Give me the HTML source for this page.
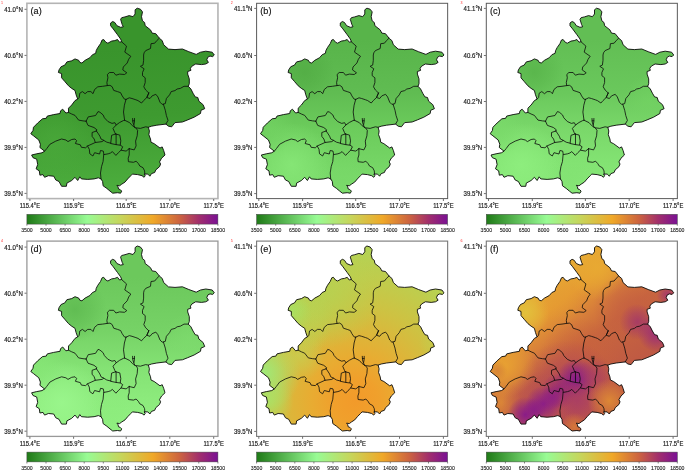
<!DOCTYPE html>
<html><head><meta charset="utf-8"><title>Figure</title>
<style>
html,body{margin:0;padding:0;background:#fff;}
svg{display:block;}
text{font-family:"Liberation Sans",Arial,sans-serif;fill:#1a1a1a;}
.t{font-size:7.1px;stroke:#1a1a1a;stroke-width:0.18px;}
.c{font-size:5.15px;stroke:#1a1a1a;stroke-width:0.1px;}
.pl{font-size:9.1px;fill:#111;stroke:#111;stroke-width:0.15px;}
.r{font-size:3.6px;fill:#ff2a2a;}
</style></head><body>
<svg width="685" height="471" viewBox="0 0 685 471">
<rect width="685" height="471" fill="#fff"/>
<defs>
<linearGradient id="cb" x1="0" x2="1" y1="0" y2="0">
<stop offset="0" stop-color="#1f7a17"/><stop offset="0.315" stop-color="#98fb94"/><stop offset="0.49" stop-color="#c6d65c"/><stop offset="0.66" stop-color="#f0a828"/><stop offset="0.80" stop-color="#cc6340"/><stop offset="0.90" stop-color="#a22f6c"/><stop offset="1" stop-color="#7a1094"/></linearGradient>
<clipPath id="mapclip"><path d="M125.0 16.9 L129.2 15.6 L133.0 16.7 L135.1 14.0 L135.1 9.8 L137.2 8.2 L140.4 9.2 L142.5 11.9 L141.5 16.7 L142.5 20.9 L144.6 22.5 L145.2 25.7 L150.5 29.9 L152.1 33.1 L155.8 33.7 L159.5 38.4 L162.2 40.6 L163.7 44.8 L168.5 49.1 L175.0 49.6 L182.4 49.0 L188.8 51.7 L196.2 54.4 L200.5 52.2 L205.8 51.2 L212.2 52.2 L214.3 55.0 L212.7 56.6 L210.0 56.1 L207.9 57.1 L206.8 59.8 L208.4 62.4 L205.8 64.0 L201.5 64.6 L195.7 64.0 L192.0 66.1 L190.4 68.3 L190.9 70.4 L187.7 71.5 L187.7 74.1 L189.3 78.9 L189.3 83.7 L188.3 86.3 L190.9 89.0 L193.0 93.2 L195.2 96.9 L197.8 97.5 L198.9 101.2 L203.1 104.7 L204.7 108.7 L201.0 110.3 L200.5 113.5 L194.1 117.2 L187.7 119.9 L182.4 122.0 L175.0 122.6 L171.7 126.8 L168.5 126.2 L165.9 124.1 L156.8 125.2 L151.5 126.2 L148.4 127.3 L149.4 131.0 L148.9 134.7 L150.5 139.0 L151.0 142.2 L154.2 143.7 L160.0 148.0 L162.2 146.9 L163.7 150.6 L165.0 155.0 L161.6 158.2 L159.5 161.9 L160.6 164.0 L159.5 166.7 L155.8 169.9 L154.7 172.5 L151.5 173.6 L149.9 176.2 L147.8 174.1 L144.1 174.1 L145.2 175.7 L144.1 177.3 L142.0 175.7 L137.7 174.6 L132.4 174.1 L130.8 175.7 L127.7 178.9 L125.0 182.1 L121.7 184.2 L119.6 185.8 L116.9 185.3 L118.0 186.8 L118.5 189.0 L120.1 189.5 L121.7 191.1 L120.6 193.2 L117.5 192.7 L112.7 193.2 L110.0 191.1 L106.8 188.4 L103.1 185.8 L102.6 181.5 L101.0 178.9 L98.4 177.8 L94.1 178.9 L87.7 179.4 L81.4 178.9 L79.8 176.8 L77.7 180.5 L75.0 177.3 L71.7 180.5 L66.9 183.1 L66.4 186.3 L61.6 186.3 L59.0 181.5 L55.8 180.0 L53.7 176.2 L48.4 175.7 L44.6 177.3 L43.0 174.6 L39.9 175.2 L39.3 170.9 L36.1 168.8 L37.7 164.6 L36.7 159.2 L33.0 157.7 L31.6 155.0 L36.7 153.8 L42.0 152.8 L44.6 151.2 L39.9 147.5 L40.4 144.3 L38.8 140.0 L33.5 135.8 L30.8 133.7 L33.0 130.5 L33.5 127.3 L37.7 123.0 L42.5 118.8 L46.2 118.3 L47.3 116.1 L53.7 114.6 L60.0 113.5 L60.6 110.8 L62.7 109.2 L65.9 113.0 L68.5 112.4 L68.5 108.2 L71.7 105.0 L75.0 100.6 L77.7 99.1 L76.1 94.8 L75.0 90.5 L71.7 88.4 L68.5 85.8 L64.8 81.5 L61.6 77.8 L61.6 73.6 L58.4 72.5 L59.0 69.9 L61.1 66.7 L64.8 65.1 L66.9 61.9 L71.7 60.8 L75.0 58.9 L78.7 60.3 L79.8 62.4 L81.9 63.0 L85.1 60.3 L89.9 57.7 L92.5 54.7 L95.7 53.3 L96.2 50.6 L97.8 47.5 L100.5 43.7 L102.1 40.0 L103.7 39.5 L105.8 42.2 L107.9 43.2 L111.6 41.1 L114.8 40.6 L117.5 39.5 L119.6 42.2 L121.7 41.6 L120.6 39.0 L117.5 34.7 L113.2 28.9 L110.6 25.7 L110.6 23.0 L112.7 21.5 L114.8 22.5 L116.9 25.7 L120.6 27.3 L123.3 26.8 L122.2 24.6 L120.6 19.3 L121.7 17.7Z"/></clipPath>
<linearGradient id="ba" gradientUnits="userSpaceOnUse" x1="80.0" y1="50.0" x2="90.0" y2="190.0"><stop offset="0.00" stop-color="#39942c"/><stop offset="0.50" stop-color="#3e9a30"/><stop offset="1.00" stop-color="#4cad3d"/></linearGradient>
<radialGradient id="ga0" gradientUnits="userSpaceOnUse" cx="55.0" cy="140.0" r="40.0"><stop offset="0" stop-color="#4cab3c" stop-opacity="0.60"/><stop offset="0.5" stop-color="#4cab3c" stop-opacity="0.33"/><stop offset="1" stop-color="#4cab3c" stop-opacity="0"/></radialGradient>
<linearGradient id="bb" gradientUnits="userSpaceOnUse" x1="100.0" y1="40.0" x2="100.0" y2="190.0"><stop offset="0.00" stop-color="#58b44a"/><stop offset="0.35" stop-color="#60bc52"/><stop offset="0.60" stop-color="#6ccc5c"/><stop offset="0.80" stop-color="#74d464"/><stop offset="1.00" stop-color="#7cdc6c"/></linearGradient>
<radialGradient id="gb0" gradientUnits="userSpaceOnUse" cx="75.0" cy="72.0" r="30.0"><stop offset="0" stop-color="#50aa42" stop-opacity="0.70"/><stop offset="0.5" stop-color="#50aa42" stop-opacity="0.39"/><stop offset="1" stop-color="#50aa42" stop-opacity="0"/></radialGradient>
<radialGradient id="gb1" gradientUnits="userSpaceOnUse" cx="62.0" cy="165.0" r="42.0"><stop offset="0" stop-color="#86e676" stop-opacity="0.95"/><stop offset="0.5" stop-color="#86e676" stop-opacity="0.52"/><stop offset="1" stop-color="#86e676" stop-opacity="0"/></radialGradient>
<radialGradient id="gb2" gradientUnits="userSpaceOnUse" cx="40.0" cy="130.0" r="25.0"><stop offset="0" stop-color="#72d262" stop-opacity="0.80"/><stop offset="0.5" stop-color="#72d262" stop-opacity="0.44"/><stop offset="1" stop-color="#72d262" stop-opacity="0"/></radialGradient>
<radialGradient id="gb3" gradientUnits="userSpaceOnUse" cx="112.0" cy="178.0" r="25.0"><stop offset="0" stop-color="#78d868" stop-opacity="0.70"/><stop offset="0.5" stop-color="#78d868" stop-opacity="0.39"/><stop offset="1" stop-color="#78d868" stop-opacity="0"/></radialGradient>
<linearGradient id="bc" gradientUnits="userSpaceOnUse" x1="100.0" y1="40.0" x2="100.0" y2="190.0"><stop offset="0.00" stop-color="#62be54"/><stop offset="0.35" stop-color="#6ac85c"/><stop offset="0.60" stop-color="#7ad86a"/><stop offset="0.80" stop-color="#82e272"/><stop offset="1.00" stop-color="#88e878"/></linearGradient>
<radialGradient id="gc0" gradientUnits="userSpaceOnUse" cx="75.0" cy="72.0" r="30.0"><stop offset="0" stop-color="#56b248" stop-opacity="0.75"/><stop offset="0.5" stop-color="#56b248" stop-opacity="0.41"/><stop offset="1" stop-color="#56b248" stop-opacity="0"/></radialGradient>
<radialGradient id="gc1" gradientUnits="userSpaceOnUse" cx="62.0" cy="165.0" r="42.0"><stop offset="0" stop-color="#8eee7e" stop-opacity="0.95"/><stop offset="0.5" stop-color="#8eee7e" stop-opacity="0.52"/><stop offset="1" stop-color="#8eee7e" stop-opacity="0"/></radialGradient>
<radialGradient id="gc2" gradientUnits="userSpaceOnUse" cx="40.0" cy="130.0" r="25.0"><stop offset="0" stop-color="#7ada6a" stop-opacity="0.80"/><stop offset="0.5" stop-color="#7ada6a" stop-opacity="0.44"/><stop offset="1" stop-color="#7ada6a" stop-opacity="0"/></radialGradient>
<radialGradient id="gc3" gradientUnits="userSpaceOnUse" cx="112.0" cy="178.0" r="25.0"><stop offset="0" stop-color="#82e272" stop-opacity="0.70"/><stop offset="0.5" stop-color="#82e272" stop-opacity="0.39"/><stop offset="1" stop-color="#82e272" stop-opacity="0"/></radialGradient>
<radialGradient id="gc4" gradientUnits="userSpaceOnUse" cx="190.0" cy="100.0" r="25.0"><stop offset="0" stop-color="#74d464" stop-opacity="0.60"/><stop offset="0.5" stop-color="#74d464" stop-opacity="0.33"/><stop offset="1" stop-color="#74d464" stop-opacity="0"/></radialGradient>
<linearGradient id="bd" gradientUnits="userSpaceOnUse" x1="100.0" y1="40.0" x2="100.0" y2="190.0"><stop offset="0.00" stop-color="#6cc85c"/><stop offset="0.35" stop-color="#76d266"/><stop offset="0.60" stop-color="#84e274"/><stop offset="0.80" stop-color="#8cea7c"/><stop offset="1.00" stop-color="#92f082"/></linearGradient>
<radialGradient id="gd0" gradientUnits="userSpaceOnUse" cx="75.0" cy="72.0" r="32.0"><stop offset="0" stop-color="#5eba50" stop-opacity="0.85"/><stop offset="0.5" stop-color="#5eba50" stop-opacity="0.47"/><stop offset="1" stop-color="#5eba50" stop-opacity="0"/></radialGradient>
<radialGradient id="gd1" gradientUnits="userSpaceOnUse" cx="62.0" cy="165.0" r="42.0"><stop offset="0" stop-color="#9af68c" stop-opacity="0.95"/><stop offset="0.5" stop-color="#9af68c" stop-opacity="0.52"/><stop offset="1" stop-color="#9af68c" stop-opacity="0"/></radialGradient>
<radialGradient id="gd2" gradientUnits="userSpaceOnUse" cx="40.0" cy="130.0" r="25.0"><stop offset="0" stop-color="#86e676" stop-opacity="0.80"/><stop offset="0.5" stop-color="#86e676" stop-opacity="0.44"/><stop offset="1" stop-color="#86e676" stop-opacity="0"/></radialGradient>
<radialGradient id="gd3" gradientUnits="userSpaceOnUse" cx="112.0" cy="178.0" r="25.0"><stop offset="0" stop-color="#8cec7c" stop-opacity="0.70"/><stop offset="0.5" stop-color="#8cec7c" stop-opacity="0.39"/><stop offset="1" stop-color="#8cec7c" stop-opacity="0"/></radialGradient>
<radialGradient id="gd4" gradientUnits="userSpaceOnUse" cx="190.0" cy="100.0" r="25.0"><stop offset="0" stop-color="#7edc6e" stop-opacity="0.60"/><stop offset="0.5" stop-color="#7edc6e" stop-opacity="0.33"/><stop offset="1" stop-color="#7edc6e" stop-opacity="0"/></radialGradient>
<radialGradient id="be" gradientUnits="userSpaceOnUse" cx="126.0" cy="163.0" r="150.0"><stop offset="0.00" stop-color="#f29a2a"/><stop offset="0.15" stop-color="#f0a02c"/><stop offset="0.30" stop-color="#e8ac32"/><stop offset="0.45" stop-color="#dcb63a"/><stop offset="0.62" stop-color="#cec242"/><stop offset="0.82" stop-color="#c0cc4c"/><stop offset="1.00" stop-color="#b4d254"/></radialGradient>
<radialGradient id="ge0" gradientUnits="userSpaceOnUse" cx="95.0" cy="55.0" r="55.0"><stop offset="0" stop-color="#b6d252" stop-opacity="0.85"/><stop offset="0.5" stop-color="#b6d252" stop-opacity="0.47"/><stop offset="1" stop-color="#b6d252" stop-opacity="0"/></radialGradient>
<radialGradient id="ge1" gradientUnits="userSpaceOnUse" cx="70.0" cy="80.0" r="35.0"><stop offset="0" stop-color="#b2d656" stop-opacity="0.70"/><stop offset="0.5" stop-color="#b2d656" stop-opacity="0.39"/><stop offset="1" stop-color="#b2d656" stop-opacity="0"/></radialGradient>
<radialGradient id="ge2" gradientUnits="userSpaceOnUse" cx="33.0" cy="136.0" r="38.0"><stop offset="0" stop-color="#9cec7c" stop-opacity="0.95"/><stop offset="0.5" stop-color="#9cec7c" stop-opacity="0.52"/><stop offset="1" stop-color="#9cec7c" stop-opacity="0"/></radialGradient>
<radialGradient id="ge3" gradientUnits="userSpaceOnUse" cx="60.0" cy="76.0" r="22.0"><stop offset="0" stop-color="#a6e264" stop-opacity="0.95"/><stop offset="0.5" stop-color="#a6e264" stop-opacity="0.52"/><stop offset="1" stop-color="#a6e264" stop-opacity="0"/></radialGradient>
<radialGradient id="ge4" gradientUnits="userSpaceOnUse" cx="38.0" cy="163.0" r="26.0"><stop offset="0" stop-color="#aae266" stop-opacity="0.90"/><stop offset="0.5" stop-color="#aae266" stop-opacity="0.50"/><stop offset="1" stop-color="#aae266" stop-opacity="0"/></radialGradient>
<radialGradient id="ge5" gradientUnits="userSpaceOnUse" cx="70.0" cy="118.0" r="25.0"><stop offset="0" stop-color="#c2d456" stop-opacity="0.60"/><stop offset="0.5" stop-color="#c2d456" stop-opacity="0.33"/><stop offset="1" stop-color="#c2d456" stop-opacity="0"/></radialGradient>
<radialGradient id="ge6" gradientUnits="userSpaceOnUse" cx="75.0" cy="95.0" r="25.0"><stop offset="0" stop-color="#c4cc4c" stop-opacity="0.50"/><stop offset="0.5" stop-color="#c4cc4c" stop-opacity="0.28"/><stop offset="1" stop-color="#c4cc4c" stop-opacity="0"/></radialGradient>
<radialGradient id="ge7" gradientUnits="userSpaceOnUse" cx="205.0" cy="105.0" r="16.0"><stop offset="0" stop-color="#c6ca4a" stop-opacity="0.80"/><stop offset="0.5" stop-color="#c6ca4a" stop-opacity="0.44"/><stop offset="1" stop-color="#c6ca4a" stop-opacity="0"/></radialGradient>
<radialGradient id="ge8" gradientUnits="userSpaceOnUse" cx="208.0" cy="55.0" r="14.0"><stop offset="0" stop-color="#b8d252" stop-opacity="0.70"/><stop offset="0.5" stop-color="#b8d252" stop-opacity="0.39"/><stop offset="1" stop-color="#b8d252" stop-opacity="0"/></radialGradient>
<linearGradient id="bf" gradientUnits="userSpaceOnUse" x1="70.0" y1="40.0" x2="175.0" y2="175.0"><stop offset="0.00" stop-color="#e6b236"/><stop offset="0.22" stop-color="#e69c32"/><stop offset="0.36" stop-color="#d8803a"/><stop offset="0.50" stop-color="#c8663e"/><stop offset="1.00" stop-color="#b85048"/></linearGradient>
<radialGradient id="gf0" gradientUnits="userSpaceOnUse" cx="66.0" cy="75.0" r="24.0"><stop offset="0" stop-color="#e2c23c" stop-opacity="0.95"/><stop offset="0.5" stop-color="#e2c23c" stop-opacity="0.52"/><stop offset="1" stop-color="#e2c23c" stop-opacity="0"/></radialGradient>
<radialGradient id="gf1" gradientUnits="userSpaceOnUse" cx="45.0" cy="128.0" r="32.0"><stop offset="0" stop-color="#e8a232" stop-opacity="0.95"/><stop offset="0.5" stop-color="#e8a232" stop-opacity="0.52"/><stop offset="1" stop-color="#e8a232" stop-opacity="0"/></radialGradient>
<radialGradient id="gf2" gradientUnits="userSpaceOnUse" cx="42.0" cy="165.0" r="20.0"><stop offset="0" stop-color="#de8c36" stop-opacity="0.80"/><stop offset="0.5" stop-color="#de8c36" stop-opacity="0.44"/><stop offset="1" stop-color="#de8c36" stop-opacity="0"/></radialGradient>
<radialGradient id="gf3" gradientUnits="userSpaceOnUse" cx="138.0" cy="30.0" r="32.0"><stop offset="0" stop-color="#e8aa32" stop-opacity="0.90"/><stop offset="0.5" stop-color="#e8aa32" stop-opacity="0.50"/><stop offset="1" stop-color="#e8aa32" stop-opacity="0"/></radialGradient>
<radialGradient id="gf4" gradientUnits="userSpaceOnUse" cx="100.0" cy="60.0" r="25.0"><stop offset="0" stop-color="#e49a32" stop-opacity="0.50"/><stop offset="0.5" stop-color="#e49a32" stop-opacity="0.28"/><stop offset="1" stop-color="#e49a32" stop-opacity="0"/></radialGradient>
<radialGradient id="gf5" gradientUnits="userSpaceOnUse" cx="170.0" cy="70.0" r="36.0"><stop offset="0" stop-color="#c45e42" stop-opacity="0.70"/><stop offset="0.5" stop-color="#c45e42" stop-opacity="0.39"/><stop offset="1" stop-color="#c45e42" stop-opacity="0"/></radialGradient>
<radialGradient id="gf6" gradientUnits="userSpaceOnUse" cx="178.0" cy="84.0" r="18.0"><stop offset="0" stop-color="#a43868" stop-opacity="0.90"/><stop offset="0.5" stop-color="#a43868" stop-opacity="0.50"/><stop offset="1" stop-color="#a43868" stop-opacity="0"/></radialGradient>
<radialGradient id="gf7" gradientUnits="userSpaceOnUse" cx="208.0" cy="57.0" r="11.0"><stop offset="0" stop-color="#a03470" stop-opacity="0.85"/><stop offset="0.5" stop-color="#a03470" stop-opacity="0.47"/><stop offset="1" stop-color="#a03470" stop-opacity="0"/></radialGradient>
<radialGradient id="gf8" gradientUnits="userSpaceOnUse" cx="197.0" cy="95.0" r="19.0"><stop offset="0" stop-color="#982a7a" stop-opacity="0.95"/><stop offset="0.5" stop-color="#982a7a" stop-opacity="0.52"/><stop offset="1" stop-color="#982a7a" stop-opacity="0"/></radialGradient>
<radialGradient id="gf9" gradientUnits="userSpaceOnUse" cx="120.0" cy="120.0" r="40.0"><stop offset="0" stop-color="#c8603e" stop-opacity="0.60"/><stop offset="0.5" stop-color="#c8603e" stop-opacity="0.33"/><stop offset="1" stop-color="#c8603e" stop-opacity="0"/></radialGradient>
<radialGradient id="gf10" gradientUnits="userSpaceOnUse" cx="108.0" cy="152.0" r="50.0"><stop offset="0" stop-color="#ac4060" stop-opacity="0.80"/><stop offset="0.5" stop-color="#ac4060" stop-opacity="0.44"/><stop offset="1" stop-color="#ac4060" stop-opacity="0"/></radialGradient>
<radialGradient id="gf11" gradientUnits="userSpaceOnUse" cx="78.0" cy="170.0" r="36.0"><stop offset="0" stop-color="#b44c56" stop-opacity="0.85"/><stop offset="0.5" stop-color="#b44c56" stop-opacity="0.47"/><stop offset="1" stop-color="#b44c56" stop-opacity="0"/></radialGradient>
<radialGradient id="gf12" gradientUnits="userSpaceOnUse" cx="117.0" cy="141.0" r="20.0"><stop offset="0" stop-color="#861a8c" stop-opacity="1.00"/><stop offset="0.5" stop-color="#861a8c" stop-opacity="0.55"/><stop offset="1" stop-color="#861a8c" stop-opacity="0"/></radialGradient>
<radialGradient id="gf13" gradientUnits="userSpaceOnUse" cx="100.0" cy="153.0" r="18.0"><stop offset="0" stop-color="#942678" stop-opacity="0.95"/><stop offset="0.5" stop-color="#942678" stop-opacity="0.52"/><stop offset="1" stop-color="#942678" stop-opacity="0"/></radialGradient>
<radialGradient id="gf14" gradientUnits="userSpaceOnUse" cx="84.0" cy="166.0" r="18.0"><stop offset="0" stop-color="#8c1e86" stop-opacity="1.00"/><stop offset="0.5" stop-color="#8c1e86" stop-opacity="0.55"/><stop offset="1" stop-color="#8c1e86" stop-opacity="0"/></radialGradient>
<radialGradient id="gf15" gradientUnits="userSpaceOnUse" cx="66.0" cy="177.0" r="18.0"><stop offset="0" stop-color="#8a1c88" stop-opacity="1.00"/><stop offset="0.5" stop-color="#8a1c88" stop-opacity="0.55"/><stop offset="1" stop-color="#8a1c88" stop-opacity="0"/></radialGradient>
<radialGradient id="gf16" gradientUnits="userSpaceOnUse" cx="75.0" cy="172.0" r="12.0"><stop offset="0" stop-color="#8a1c88" stop-opacity="0.80"/><stop offset="0.5" stop-color="#8a1c88" stop-opacity="0.44"/><stop offset="1" stop-color="#8a1c88" stop-opacity="0"/></radialGradient>
<radialGradient id="gf17" gradientUnits="userSpaceOnUse" cx="93.0" cy="160.0" r="12.0"><stop offset="0" stop-color="#8e2084" stop-opacity="0.80"/><stop offset="0.5" stop-color="#8e2084" stop-opacity="0.44"/><stop offset="1" stop-color="#8e2084" stop-opacity="0"/></radialGradient>
<radialGradient id="gf18" gradientUnits="userSpaceOnUse" cx="118.0" cy="162.0" r="20.0"><stop offset="0" stop-color="#a83c66" stop-opacity="0.80"/><stop offset="0.5" stop-color="#a83c66" stop-opacity="0.44"/><stop offset="1" stop-color="#a83c66" stop-opacity="0"/></radialGradient>
<radialGradient id="gf19" gradientUnits="userSpaceOnUse" cx="135.0" cy="138.0" r="18.0"><stop offset="0" stop-color="#a83c66" stop-opacity="0.70"/><stop offset="0.5" stop-color="#a83c66" stop-opacity="0.39"/><stop offset="1" stop-color="#a83c66" stop-opacity="0"/></radialGradient>
<radialGradient id="gf20" gradientUnits="userSpaceOnUse" cx="115.0" cy="189.0" r="14.0"><stop offset="0" stop-color="#d67838" stop-opacity="0.95"/><stop offset="0.5" stop-color="#d67838" stop-opacity="0.52"/><stop offset="1" stop-color="#d67838" stop-opacity="0"/></radialGradient>
<radialGradient id="gf21" gradientUnits="userSpaceOnUse" cx="150.0" cy="163.0" r="22.0"><stop offset="0" stop-color="#de8a34" stop-opacity="0.95"/><stop offset="0.5" stop-color="#de8a34" stop-opacity="0.52"/><stop offset="1" stop-color="#de8a34" stop-opacity="0"/></radialGradient>
<radialGradient id="gf22" gradientUnits="userSpaceOnUse" cx="38.0" cy="133.0" r="10.0"><stop offset="0" stop-color="#d07838" stop-opacity="0.60"/><stop offset="0.5" stop-color="#d07838" stop-opacity="0.33"/><stop offset="1" stop-color="#d07838" stop-opacity="0"/></radialGradient>
</defs>
<g transform="translate(0.0 0.0)">
<g clip-path="url(#mapclip)"><rect x="25" y="5" width="195" height="192" fill="url(#ba)"/>
<rect x="25" y="5" width="195" height="192" fill="url(#ga0)"/>
</g>
<path d="M121.6 41.8 L126.5 46.1 L124.8 52.1 L130.8 56.3 L128.7 59.2 L127.2 63.0 L123.3 67.0 L122.8 69.9 L126.8 72.8 L124.5 74.5 L119.6 74.1 L115.9 75.2 L113.7 72.5 L109.5 72.5 L107.4 74.5 L107.9 77.8 L106.9 82.6 L107.3 85.6 M77.7 99.1 L79.2 97.5 L79.8 93.2 L82.4 91.6 L85.1 93.7 L87.7 91.6 L90.9 91.6 L93.0 93.7 L94.6 89.5 L97.8 86.8 L102.6 86.3 L107.3 85.6 L110.0 85.3 L112.2 86.8 L113.7 90.4 L117.5 91.6 L120.6 92.7 L122.2 95.9 L124.4 99.1 L126.0 99.4 M126.0 99.4 L129.3 97.8 L132.0 98.5 L135.9 99.8 L138.0 100.6 L141.5 103.0 L143.6 100.6 L146.8 97.5 L148.8 93.0 M126.0 99.4 L124.4 105.2 L123.5 112.0 L124.6 120.2 M159.3 38.2 L156.8 40.6 L154.7 43.2 L151.0 43.7 L150.5 48.5 L145.7 50.6 L144.1 52.8 L143.6 55.0 L143.6 60.3 L143.0 65.1 L140.4 66.3 L144.1 68.8 L142.5 72.5 L142.5 75.7 L145.2 77.8 L145.2 82.6 L143.8 86.8 L145.7 90.0 L148.8 93.0 M148.8 93.0 L146.8 97.5 L150.0 98.5 L152.1 95.9 L155.8 94.3 L157.9 96.9 L160.0 102.2 L162.2 104.4 L165.3 103.6 L166.4 98.5 L169.6 94.8 L171.2 91.6 L175.0 90.6 L177.1 89.0 L180.3 88.4 L184.0 86.3 L188.3 86.3 M163.4 104.3 L165.3 110.3 L166.4 115.6 L168.0 120.4 L165.9 124.1 M68.5 112.4 L71.7 114.0 L75.0 115.4 L78.6 120.1 L83.0 120.9 L86.1 121.2 M86.1 121.2 L88.2 116.9 L95.6 115.5 L98.0 111.6 L99.9 112.2 L103.1 114.9 L104.4 117.8 L107.9 121.5 L112.0 123.4 L114.9 122.7 L116.2 125.0 L119.6 122.5 L123.3 120.6 L124.6 120.2 M124.6 120.2 L129.7 122.7 L132.4 125.7 L135.6 127.8 L140.4 128.4 L145.7 126.8 L148.4 127.3 M132.6 118.5 L132.8 122.0 L133.6 124.6 L134.8 127.6 M134.5 118.5 L134.4 122.0 L133.9 124.8 M132.8 120.8 L134.4 120.8 M135.8 127.9 L137.6 130.3 L137.2 135.8 L135.6 141.1 L136.1 145.9 L134.2 149.9 L129.2 148.7 M129.2 148.7 L129.2 155.0 L128.2 158.2 L128.4 161.7 L133.5 162.3 L136.1 161.2 L138.3 163.5 L139.9 166.1 L143.0 167.7 L144.6 170.9 L144.8 174.1 M129.2 148.7 L126.1 151.1 L121.0 150.2 L122.7 146.8 L120.4 145.2 M116.2 125.0 L113.0 128.4 L114.8 132.6 L115.6 134.0 M115.6 134.0 L119.8 135.1 L120.8 140.9 L120.2 145.2 L115.9 144.6 L110.7 143.5 L111.6 135.3 L115.6 134.0 M116.1 134.0 L116.1 144.6 M86.1 121.2 L88.0 125.4 L94.0 127.5 L96.9 129.8 L96.4 131.0 M96.4 131.0 L92.1 132.5 L92.1 136.4 L94.2 139.0 L95.3 142.5 L102.1 141.6 L103.8 140.4 L101.0 139.0 L99.9 136.2 L97.9 133.1 L96.4 131.0 M103.8 140.4 L106.8 142.2 L110.7 143.2 M44.6 151.2 L46.8 148.5 L49.9 144.3 L55.8 141.1 L61.6 139.0 L65.9 140.0 L68.0 141.6 L71.7 139.5 L75.0 139.0 L76.6 140.6 L75.4 143.5 L80.3 144.8 L81.4 147.3 L85.6 147.8 L87.5 146.0 L95.3 142.5 M87.5 146.0 L89.3 149.3 L89.8 153.8 L92.9 156.0 L94.6 152.7 L99.6 154.0 L100.5 150.5 L103.3 151.1 L103.9 154.6 L108.2 153.8 L110.5 153.0 L112.4 151.6 L115.9 155.4 L118.4 152.7 L121.0 150.2 M103.7 154.6 L103.1 161.4 L101.5 166.7 L100.5 173.0 L101.0 178.9" fill="none" stroke="#0a0a0a" stroke-width="0.8" stroke-linejoin="round" stroke-linecap="round"/>
<path d="M125.0 16.9 L129.2 15.6 L133.0 16.7 L135.1 14.0 L135.1 9.8 L137.2 8.2 L140.4 9.2 L142.5 11.9 L141.5 16.7 L142.5 20.9 L144.6 22.5 L145.2 25.7 L150.5 29.9 L152.1 33.1 L155.8 33.7 L159.5 38.4 L162.2 40.6 L163.7 44.8 L168.5 49.1 L175.0 49.6 L182.4 49.0 L188.8 51.7 L196.2 54.4 L200.5 52.2 L205.8 51.2 L212.2 52.2 L214.3 55.0 L212.7 56.6 L210.0 56.1 L207.9 57.1 L206.8 59.8 L208.4 62.4 L205.8 64.0 L201.5 64.6 L195.7 64.0 L192.0 66.1 L190.4 68.3 L190.9 70.4 L187.7 71.5 L187.7 74.1 L189.3 78.9 L189.3 83.7 L188.3 86.3 L190.9 89.0 L193.0 93.2 L195.2 96.9 L197.8 97.5 L198.9 101.2 L203.1 104.7 L204.7 108.7 L201.0 110.3 L200.5 113.5 L194.1 117.2 L187.7 119.9 L182.4 122.0 L175.0 122.6 L171.7 126.8 L168.5 126.2 L165.9 124.1 L156.8 125.2 L151.5 126.2 L148.4 127.3 L149.4 131.0 L148.9 134.7 L150.5 139.0 L151.0 142.2 L154.2 143.7 L160.0 148.0 L162.2 146.9 L163.7 150.6 L165.0 155.0 L161.6 158.2 L159.5 161.9 L160.6 164.0 L159.5 166.7 L155.8 169.9 L154.7 172.5 L151.5 173.6 L149.9 176.2 L147.8 174.1 L144.1 174.1 L145.2 175.7 L144.1 177.3 L142.0 175.7 L137.7 174.6 L132.4 174.1 L130.8 175.7 L127.7 178.9 L125.0 182.1 L121.7 184.2 L119.6 185.8 L116.9 185.3 L118.0 186.8 L118.5 189.0 L120.1 189.5 L121.7 191.1 L120.6 193.2 L117.5 192.7 L112.7 193.2 L110.0 191.1 L106.8 188.4 L103.1 185.8 L102.6 181.5 L101.0 178.9 L98.4 177.8 L94.1 178.9 L87.7 179.4 L81.4 178.9 L79.8 176.8 L77.7 180.5 L75.0 177.3 L71.7 180.5 L66.9 183.1 L66.4 186.3 L61.6 186.3 L59.0 181.5 L55.8 180.0 L53.7 176.2 L48.4 175.7 L44.6 177.3 L43.0 174.6 L39.9 175.2 L39.3 170.9 L36.1 168.8 L37.7 164.6 L36.7 159.2 L33.0 157.7 L31.6 155.0 L36.7 153.8 L42.0 152.8 L44.6 151.2 L39.9 147.5 L40.4 144.3 L38.8 140.0 L33.5 135.8 L30.8 133.7 L33.0 130.5 L33.5 127.3 L37.7 123.0 L42.5 118.8 L46.2 118.3 L47.3 116.1 L53.7 114.6 L60.0 113.5 L60.6 110.8 L62.7 109.2 L65.9 113.0 L68.5 112.4 L68.5 108.2 L71.7 105.0 L75.0 100.6 L77.7 99.1 L76.1 94.8 L75.0 90.5 L71.7 88.4 L68.5 85.8 L64.8 81.5 L61.6 77.8 L61.6 73.6 L58.4 72.5 L59.0 69.9 L61.1 66.7 L64.8 65.1 L66.9 61.9 L71.7 60.8 L75.0 58.9 L78.7 60.3 L79.8 62.4 L81.9 63.0 L85.1 60.3 L89.9 57.7 L92.5 54.7 L95.7 53.3 L96.2 50.6 L97.8 47.5 L100.5 43.7 L102.1 40.0 L103.7 39.5 L105.8 42.2 L107.9 43.2 L111.6 41.1 L114.8 40.6 L117.5 39.5 L119.6 42.2 L121.7 41.6 L120.6 39.0 L117.5 34.7 L113.2 28.9 L110.6 25.7 L110.6 23.0 L112.7 21.5 L114.8 22.5 L116.9 25.7 L120.6 27.3 L123.3 26.8 L122.2 24.6 L120.6 19.3 L121.7 17.7Z" fill="none" stroke="#0a0a0a" stroke-width="0.9" stroke-linejoin="round"/>
<rect x="26.90" y="3.30" width="191.05" height="195.30" fill="none" stroke="#b4b4b4" stroke-width="1.60"/>
<path d="M29.9 199.0 v2 M73.6 199.0 v2 M126.2 199.0 v2 M169.8 199.0 v2 M213.7 199.0 v2 M26.5 9.3 h-2 M26.5 55.4 h-2 M26.5 101.4 h-2 M26.5 147.4 h-2 M26.5 193.4 h-2" stroke="#333" stroke-width="0.7" fill="none"/>
<text class="t" x="22.8" y="11.8" text-anchor="end" textLength="18.6" lengthAdjust="spacingAndGlyphs">41.0°N</text>
<text class="t" x="22.8" y="57.9" text-anchor="end" textLength="18.6" lengthAdjust="spacingAndGlyphs">40.6°N</text>
<text class="t" x="22.8" y="103.9" text-anchor="end" textLength="18.6" lengthAdjust="spacingAndGlyphs">40.2°N</text>
<text class="t" x="22.8" y="149.9" text-anchor="end" textLength="18.6" lengthAdjust="spacingAndGlyphs">39.9°N</text>
<text class="t" x="22.8" y="195.9" text-anchor="end" textLength="18.6" lengthAdjust="spacingAndGlyphs">39.5°N</text>
<text class="t" x="29.9" y="208.1" text-anchor="middle" textLength="20.4" lengthAdjust="spacingAndGlyphs">115.4°E</text>
<text class="t" x="73.6" y="208.1" text-anchor="middle" textLength="20.4" lengthAdjust="spacingAndGlyphs">115.9°E</text>
<text class="t" x="126.2" y="208.1" text-anchor="middle" textLength="20.4" lengthAdjust="spacingAndGlyphs">116.5°E</text>
<text class="t" x="169.8" y="208.1" text-anchor="middle" textLength="20.4" lengthAdjust="spacingAndGlyphs">117.0°E</text>
<text class="t" x="213.7" y="208.1" text-anchor="middle" textLength="20.4" lengthAdjust="spacingAndGlyphs">117.5°E</text>
<text class="pl" x="30.6" y="14.2">(a)</text>
<rect x="26.9" y="214.3" width="191.0" height="9.8" fill="url(#cb)" stroke="#444" stroke-width="0.5"/>
<text class="c" x="26.90" y="232" text-anchor="middle">3500</text>
<text class="c" x="46.00" y="232" text-anchor="middle">5000</text>
<text class="c" x="65.10" y="232" text-anchor="middle">6500</text>
<text class="c" x="84.20" y="232" text-anchor="middle">8000</text>
<text class="c" x="103.30" y="232" text-anchor="middle">9500</text>
<text class="c" x="122.40" y="232" text-anchor="middle">11000</text>
<text class="c" x="141.50" y="232" text-anchor="middle">12500</text>
<text class="c" x="160.60" y="232" text-anchor="middle">14000</text>
<text class="c" x="179.70" y="232" text-anchor="middle">15500</text>
<text class="c" x="198.80" y="232" text-anchor="middle">17000</text>
<text class="c" x="217.90" y="232" text-anchor="middle">18500</text>
<path d="M26.90 224.1 v1.6 M46.00 224.1 v1.6 M65.10 224.1 v1.6 M84.20 224.1 v1.6 M103.30 224.1 v1.6 M122.40 224.1 v1.6 M141.50 224.1 v1.6 M160.60 224.1 v1.6 M179.70 224.1 v1.6 M198.80 224.1 v1.6 M217.90 224.1 v1.6" stroke="#333" stroke-width="0.6" fill="none"/>
<text class="r" x="1.0" y="3.8">1</text>
</g>
<g transform="translate(229.7 0.0)">
<g clip-path="url(#mapclip)"><rect x="25" y="5" width="195" height="192" fill="url(#bb)"/>
<rect x="25" y="5" width="195" height="192" fill="url(#gb0)"/>
<rect x="25" y="5" width="195" height="192" fill="url(#gb1)"/>
<rect x="25" y="5" width="195" height="192" fill="url(#gb2)"/>
<rect x="25" y="5" width="195" height="192" fill="url(#gb3)"/>
</g>
<path d="M121.6 41.8 L126.5 46.1 L124.8 52.1 L130.8 56.3 L128.7 59.2 L127.2 63.0 L123.3 67.0 L122.8 69.9 L126.8 72.8 L124.5 74.5 L119.6 74.1 L115.9 75.2 L113.7 72.5 L109.5 72.5 L107.4 74.5 L107.9 77.8 L106.9 82.6 L107.3 85.6 M77.7 99.1 L79.2 97.5 L79.8 93.2 L82.4 91.6 L85.1 93.7 L87.7 91.6 L90.9 91.6 L93.0 93.7 L94.6 89.5 L97.8 86.8 L102.6 86.3 L107.3 85.6 L110.0 85.3 L112.2 86.8 L113.7 90.4 L117.5 91.6 L120.6 92.7 L122.2 95.9 L124.4 99.1 L126.0 99.4 M126.0 99.4 L129.3 97.8 L132.0 98.5 L135.9 99.8 L138.0 100.6 L141.5 103.0 L143.6 100.6 L146.8 97.5 L148.8 93.0 M126.0 99.4 L124.4 105.2 L123.5 112.0 L124.6 120.2 M159.3 38.2 L156.8 40.6 L154.7 43.2 L151.0 43.7 L150.5 48.5 L145.7 50.6 L144.1 52.8 L143.6 55.0 L143.6 60.3 L143.0 65.1 L140.4 66.3 L144.1 68.8 L142.5 72.5 L142.5 75.7 L145.2 77.8 L145.2 82.6 L143.8 86.8 L145.7 90.0 L148.8 93.0 M148.8 93.0 L146.8 97.5 L150.0 98.5 L152.1 95.9 L155.8 94.3 L157.9 96.9 L160.0 102.2 L162.2 104.4 L165.3 103.6 L166.4 98.5 L169.6 94.8 L171.2 91.6 L175.0 90.6 L177.1 89.0 L180.3 88.4 L184.0 86.3 L188.3 86.3 M163.4 104.3 L165.3 110.3 L166.4 115.6 L168.0 120.4 L165.9 124.1 M68.5 112.4 L71.7 114.0 L75.0 115.4 L78.6 120.1 L83.0 120.9 L86.1 121.2 M86.1 121.2 L88.2 116.9 L95.6 115.5 L98.0 111.6 L99.9 112.2 L103.1 114.9 L104.4 117.8 L107.9 121.5 L112.0 123.4 L114.9 122.7 L116.2 125.0 L119.6 122.5 L123.3 120.6 L124.6 120.2 M124.6 120.2 L129.7 122.7 L132.4 125.7 L135.6 127.8 L140.4 128.4 L145.7 126.8 L148.4 127.3 M132.6 118.5 L132.8 122.0 L133.6 124.6 L134.8 127.6 M134.5 118.5 L134.4 122.0 L133.9 124.8 M132.8 120.8 L134.4 120.8 M135.8 127.9 L137.6 130.3 L137.2 135.8 L135.6 141.1 L136.1 145.9 L134.2 149.9 L129.2 148.7 M129.2 148.7 L129.2 155.0 L128.2 158.2 L128.4 161.7 L133.5 162.3 L136.1 161.2 L138.3 163.5 L139.9 166.1 L143.0 167.7 L144.6 170.9 L144.8 174.1 M129.2 148.7 L126.1 151.1 L121.0 150.2 L122.7 146.8 L120.4 145.2 M116.2 125.0 L113.0 128.4 L114.8 132.6 L115.6 134.0 M115.6 134.0 L119.8 135.1 L120.8 140.9 L120.2 145.2 L115.9 144.6 L110.7 143.5 L111.6 135.3 L115.6 134.0 M116.1 134.0 L116.1 144.6 M86.1 121.2 L88.0 125.4 L94.0 127.5 L96.9 129.8 L96.4 131.0 M96.4 131.0 L92.1 132.5 L92.1 136.4 L94.2 139.0 L95.3 142.5 L102.1 141.6 L103.8 140.4 L101.0 139.0 L99.9 136.2 L97.9 133.1 L96.4 131.0 M103.8 140.4 L106.8 142.2 L110.7 143.2 M44.6 151.2 L46.8 148.5 L49.9 144.3 L55.8 141.1 L61.6 139.0 L65.9 140.0 L68.0 141.6 L71.7 139.5 L75.0 139.0 L76.6 140.6 L75.4 143.5 L80.3 144.8 L81.4 147.3 L85.6 147.8 L87.5 146.0 L95.3 142.5 M87.5 146.0 L89.3 149.3 L89.8 153.8 L92.9 156.0 L94.6 152.7 L99.6 154.0 L100.5 150.5 L103.3 151.1 L103.9 154.6 L108.2 153.8 L110.5 153.0 L112.4 151.6 L115.9 155.4 L118.4 152.7 L121.0 150.2 M103.7 154.6 L103.1 161.4 L101.5 166.7 L100.5 173.0 L101.0 178.9" fill="none" stroke="#0a0a0a" stroke-width="0.8" stroke-linejoin="round" stroke-linecap="round"/>
<path d="M125.0 16.9 L129.2 15.6 L133.0 16.7 L135.1 14.0 L135.1 9.8 L137.2 8.2 L140.4 9.2 L142.5 11.9 L141.5 16.7 L142.5 20.9 L144.6 22.5 L145.2 25.7 L150.5 29.9 L152.1 33.1 L155.8 33.7 L159.5 38.4 L162.2 40.6 L163.7 44.8 L168.5 49.1 L175.0 49.6 L182.4 49.0 L188.8 51.7 L196.2 54.4 L200.5 52.2 L205.8 51.2 L212.2 52.2 L214.3 55.0 L212.7 56.6 L210.0 56.1 L207.9 57.1 L206.8 59.8 L208.4 62.4 L205.8 64.0 L201.5 64.6 L195.7 64.0 L192.0 66.1 L190.4 68.3 L190.9 70.4 L187.7 71.5 L187.7 74.1 L189.3 78.9 L189.3 83.7 L188.3 86.3 L190.9 89.0 L193.0 93.2 L195.2 96.9 L197.8 97.5 L198.9 101.2 L203.1 104.7 L204.7 108.7 L201.0 110.3 L200.5 113.5 L194.1 117.2 L187.7 119.9 L182.4 122.0 L175.0 122.6 L171.7 126.8 L168.5 126.2 L165.9 124.1 L156.8 125.2 L151.5 126.2 L148.4 127.3 L149.4 131.0 L148.9 134.7 L150.5 139.0 L151.0 142.2 L154.2 143.7 L160.0 148.0 L162.2 146.9 L163.7 150.6 L165.0 155.0 L161.6 158.2 L159.5 161.9 L160.6 164.0 L159.5 166.7 L155.8 169.9 L154.7 172.5 L151.5 173.6 L149.9 176.2 L147.8 174.1 L144.1 174.1 L145.2 175.7 L144.1 177.3 L142.0 175.7 L137.7 174.6 L132.4 174.1 L130.8 175.7 L127.7 178.9 L125.0 182.1 L121.7 184.2 L119.6 185.8 L116.9 185.3 L118.0 186.8 L118.5 189.0 L120.1 189.5 L121.7 191.1 L120.6 193.2 L117.5 192.7 L112.7 193.2 L110.0 191.1 L106.8 188.4 L103.1 185.8 L102.6 181.5 L101.0 178.9 L98.4 177.8 L94.1 178.9 L87.7 179.4 L81.4 178.9 L79.8 176.8 L77.7 180.5 L75.0 177.3 L71.7 180.5 L66.9 183.1 L66.4 186.3 L61.6 186.3 L59.0 181.5 L55.8 180.0 L53.7 176.2 L48.4 175.7 L44.6 177.3 L43.0 174.6 L39.9 175.2 L39.3 170.9 L36.1 168.8 L37.7 164.6 L36.7 159.2 L33.0 157.7 L31.6 155.0 L36.7 153.8 L42.0 152.8 L44.6 151.2 L39.9 147.5 L40.4 144.3 L38.8 140.0 L33.5 135.8 L30.8 133.7 L33.0 130.5 L33.5 127.3 L37.7 123.0 L42.5 118.8 L46.2 118.3 L47.3 116.1 L53.7 114.6 L60.0 113.5 L60.6 110.8 L62.7 109.2 L65.9 113.0 L68.5 112.4 L68.5 108.2 L71.7 105.0 L75.0 100.6 L77.7 99.1 L76.1 94.8 L75.0 90.5 L71.7 88.4 L68.5 85.8 L64.8 81.5 L61.6 77.8 L61.6 73.6 L58.4 72.5 L59.0 69.9 L61.1 66.7 L64.8 65.1 L66.9 61.9 L71.7 60.8 L75.0 58.9 L78.7 60.3 L79.8 62.4 L81.9 63.0 L85.1 60.3 L89.9 57.7 L92.5 54.7 L95.7 53.3 L96.2 50.6 L97.8 47.5 L100.5 43.7 L102.1 40.0 L103.7 39.5 L105.8 42.2 L107.9 43.2 L111.6 41.1 L114.8 40.6 L117.5 39.5 L119.6 42.2 L121.7 41.6 L120.6 39.0 L117.5 34.7 L113.2 28.9 L110.6 25.7 L110.6 23.0 L112.7 21.5 L114.8 22.5 L116.9 25.7 L120.6 27.3 L123.3 26.8 L122.2 24.6 L120.6 19.3 L121.7 17.7Z" fill="none" stroke="#0a0a0a" stroke-width="0.9" stroke-linejoin="round"/>
<rect x="26.90" y="3.30" width="191.05" height="195.30" fill="none" stroke="#5a5a5a" stroke-width="1.00"/>
<path d="M29.1 199.0 v2 M72.9 199.0 v2 M126.0 199.0 v2 M169.8 199.0 v2 M213.7 199.0 v2 M26.5 8.4 h-2 M26.5 55.5 h-2 M26.5 101.5 h-2 M26.5 147.4 h-2 M26.5 193.6 h-2" stroke="#333" stroke-width="0.7" fill="none"/>
<text class="t" x="22.8" y="10.9" text-anchor="end" textLength="18.6" lengthAdjust="spacingAndGlyphs">41.1°N</text>
<text class="t" x="22.8" y="58.0" text-anchor="end" textLength="18.6" lengthAdjust="spacingAndGlyphs">40.6°N</text>
<text class="t" x="22.8" y="104.0" text-anchor="end" textLength="18.6" lengthAdjust="spacingAndGlyphs">40.2°N</text>
<text class="t" x="22.8" y="149.9" text-anchor="end" textLength="18.6" lengthAdjust="spacingAndGlyphs">39.9°N</text>
<text class="t" x="22.8" y="196.1" text-anchor="end" textLength="18.6" lengthAdjust="spacingAndGlyphs">39.5°N</text>
<text class="t" x="29.1" y="208.1" text-anchor="middle" textLength="20.4" lengthAdjust="spacingAndGlyphs">115.4°E</text>
<text class="t" x="72.9" y="208.1" text-anchor="middle" textLength="20.4" lengthAdjust="spacingAndGlyphs">115.9°E</text>
<text class="t" x="126.0" y="208.1" text-anchor="middle" textLength="20.4" lengthAdjust="spacingAndGlyphs">116.5°E</text>
<text class="t" x="169.8" y="208.1" text-anchor="middle" textLength="20.4" lengthAdjust="spacingAndGlyphs">117.0°E</text>
<text class="t" x="213.7" y="208.1" text-anchor="middle" textLength="20.4" lengthAdjust="spacingAndGlyphs">117.5°E</text>
<text class="pl" x="30.6" y="14.2">(b)</text>
<rect x="26.9" y="214.3" width="191.0" height="9.8" fill="url(#cb)" stroke="#444" stroke-width="0.5"/>
<text class="c" x="26.90" y="232" text-anchor="middle">3500</text>
<text class="c" x="46.00" y="232" text-anchor="middle">5000</text>
<text class="c" x="65.10" y="232" text-anchor="middle">6500</text>
<text class="c" x="84.20" y="232" text-anchor="middle">8000</text>
<text class="c" x="103.30" y="232" text-anchor="middle">9500</text>
<text class="c" x="122.40" y="232" text-anchor="middle">11000</text>
<text class="c" x="141.50" y="232" text-anchor="middle">12500</text>
<text class="c" x="160.60" y="232" text-anchor="middle">14000</text>
<text class="c" x="179.70" y="232" text-anchor="middle">15500</text>
<text class="c" x="198.80" y="232" text-anchor="middle">17000</text>
<text class="c" x="217.90" y="232" text-anchor="middle">18500</text>
<path d="M26.90 224.1 v1.6 M46.00 224.1 v1.6 M65.10 224.1 v1.6 M84.20 224.1 v1.6 M103.30 224.1 v1.6 M122.40 224.1 v1.6 M141.50 224.1 v1.6 M160.60 224.1 v1.6 M179.70 224.1 v1.6 M198.80 224.1 v1.6 M217.90 224.1 v1.6" stroke="#333" stroke-width="0.6" fill="none"/>
<text class="r" x="1.0" y="3.8">2</text>
</g>
<g transform="translate(459.4 0.0)">
<g clip-path="url(#mapclip)"><rect x="25" y="5" width="195" height="192" fill="url(#bc)"/>
<rect x="25" y="5" width="195" height="192" fill="url(#gc0)"/>
<rect x="25" y="5" width="195" height="192" fill="url(#gc1)"/>
<rect x="25" y="5" width="195" height="192" fill="url(#gc2)"/>
<rect x="25" y="5" width="195" height="192" fill="url(#gc3)"/>
<rect x="25" y="5" width="195" height="192" fill="url(#gc4)"/>
</g>
<path d="M121.6 41.8 L126.5 46.1 L124.8 52.1 L130.8 56.3 L128.7 59.2 L127.2 63.0 L123.3 67.0 L122.8 69.9 L126.8 72.8 L124.5 74.5 L119.6 74.1 L115.9 75.2 L113.7 72.5 L109.5 72.5 L107.4 74.5 L107.9 77.8 L106.9 82.6 L107.3 85.6 M77.7 99.1 L79.2 97.5 L79.8 93.2 L82.4 91.6 L85.1 93.7 L87.7 91.6 L90.9 91.6 L93.0 93.7 L94.6 89.5 L97.8 86.8 L102.6 86.3 L107.3 85.6 L110.0 85.3 L112.2 86.8 L113.7 90.4 L117.5 91.6 L120.6 92.7 L122.2 95.9 L124.4 99.1 L126.0 99.4 M126.0 99.4 L129.3 97.8 L132.0 98.5 L135.9 99.8 L138.0 100.6 L141.5 103.0 L143.6 100.6 L146.8 97.5 L148.8 93.0 M126.0 99.4 L124.4 105.2 L123.5 112.0 L124.6 120.2 M159.3 38.2 L156.8 40.6 L154.7 43.2 L151.0 43.7 L150.5 48.5 L145.7 50.6 L144.1 52.8 L143.6 55.0 L143.6 60.3 L143.0 65.1 L140.4 66.3 L144.1 68.8 L142.5 72.5 L142.5 75.7 L145.2 77.8 L145.2 82.6 L143.8 86.8 L145.7 90.0 L148.8 93.0 M148.8 93.0 L146.8 97.5 L150.0 98.5 L152.1 95.9 L155.8 94.3 L157.9 96.9 L160.0 102.2 L162.2 104.4 L165.3 103.6 L166.4 98.5 L169.6 94.8 L171.2 91.6 L175.0 90.6 L177.1 89.0 L180.3 88.4 L184.0 86.3 L188.3 86.3 M163.4 104.3 L165.3 110.3 L166.4 115.6 L168.0 120.4 L165.9 124.1 M68.5 112.4 L71.7 114.0 L75.0 115.4 L78.6 120.1 L83.0 120.9 L86.1 121.2 M86.1 121.2 L88.2 116.9 L95.6 115.5 L98.0 111.6 L99.9 112.2 L103.1 114.9 L104.4 117.8 L107.9 121.5 L112.0 123.4 L114.9 122.7 L116.2 125.0 L119.6 122.5 L123.3 120.6 L124.6 120.2 M124.6 120.2 L129.7 122.7 L132.4 125.7 L135.6 127.8 L140.4 128.4 L145.7 126.8 L148.4 127.3 M132.6 118.5 L132.8 122.0 L133.6 124.6 L134.8 127.6 M134.5 118.5 L134.4 122.0 L133.9 124.8 M132.8 120.8 L134.4 120.8 M135.8 127.9 L137.6 130.3 L137.2 135.8 L135.6 141.1 L136.1 145.9 L134.2 149.9 L129.2 148.7 M129.2 148.7 L129.2 155.0 L128.2 158.2 L128.4 161.7 L133.5 162.3 L136.1 161.2 L138.3 163.5 L139.9 166.1 L143.0 167.7 L144.6 170.9 L144.8 174.1 M129.2 148.7 L126.1 151.1 L121.0 150.2 L122.7 146.8 L120.4 145.2 M116.2 125.0 L113.0 128.4 L114.8 132.6 L115.6 134.0 M115.6 134.0 L119.8 135.1 L120.8 140.9 L120.2 145.2 L115.9 144.6 L110.7 143.5 L111.6 135.3 L115.6 134.0 M116.1 134.0 L116.1 144.6 M86.1 121.2 L88.0 125.4 L94.0 127.5 L96.9 129.8 L96.4 131.0 M96.4 131.0 L92.1 132.5 L92.1 136.4 L94.2 139.0 L95.3 142.5 L102.1 141.6 L103.8 140.4 L101.0 139.0 L99.9 136.2 L97.9 133.1 L96.4 131.0 M103.8 140.4 L106.8 142.2 L110.7 143.2 M44.6 151.2 L46.8 148.5 L49.9 144.3 L55.8 141.1 L61.6 139.0 L65.9 140.0 L68.0 141.6 L71.7 139.5 L75.0 139.0 L76.6 140.6 L75.4 143.5 L80.3 144.8 L81.4 147.3 L85.6 147.8 L87.5 146.0 L95.3 142.5 M87.5 146.0 L89.3 149.3 L89.8 153.8 L92.9 156.0 L94.6 152.7 L99.6 154.0 L100.5 150.5 L103.3 151.1 L103.9 154.6 L108.2 153.8 L110.5 153.0 L112.4 151.6 L115.9 155.4 L118.4 152.7 L121.0 150.2 M103.7 154.6 L103.1 161.4 L101.5 166.7 L100.5 173.0 L101.0 178.9" fill="none" stroke="#0a0a0a" stroke-width="0.8" stroke-linejoin="round" stroke-linecap="round"/>
<path d="M125.0 16.9 L129.2 15.6 L133.0 16.7 L135.1 14.0 L135.1 9.8 L137.2 8.2 L140.4 9.2 L142.5 11.9 L141.5 16.7 L142.5 20.9 L144.6 22.5 L145.2 25.7 L150.5 29.9 L152.1 33.1 L155.8 33.7 L159.5 38.4 L162.2 40.6 L163.7 44.8 L168.5 49.1 L175.0 49.6 L182.4 49.0 L188.8 51.7 L196.2 54.4 L200.5 52.2 L205.8 51.2 L212.2 52.2 L214.3 55.0 L212.7 56.6 L210.0 56.1 L207.9 57.1 L206.8 59.8 L208.4 62.4 L205.8 64.0 L201.5 64.6 L195.7 64.0 L192.0 66.1 L190.4 68.3 L190.9 70.4 L187.7 71.5 L187.7 74.1 L189.3 78.9 L189.3 83.7 L188.3 86.3 L190.9 89.0 L193.0 93.2 L195.2 96.9 L197.8 97.5 L198.9 101.2 L203.1 104.7 L204.7 108.7 L201.0 110.3 L200.5 113.5 L194.1 117.2 L187.7 119.9 L182.4 122.0 L175.0 122.6 L171.7 126.8 L168.5 126.2 L165.9 124.1 L156.8 125.2 L151.5 126.2 L148.4 127.3 L149.4 131.0 L148.9 134.7 L150.5 139.0 L151.0 142.2 L154.2 143.7 L160.0 148.0 L162.2 146.9 L163.7 150.6 L165.0 155.0 L161.6 158.2 L159.5 161.9 L160.6 164.0 L159.5 166.7 L155.8 169.9 L154.7 172.5 L151.5 173.6 L149.9 176.2 L147.8 174.1 L144.1 174.1 L145.2 175.7 L144.1 177.3 L142.0 175.7 L137.7 174.6 L132.4 174.1 L130.8 175.7 L127.7 178.9 L125.0 182.1 L121.7 184.2 L119.6 185.8 L116.9 185.3 L118.0 186.8 L118.5 189.0 L120.1 189.5 L121.7 191.1 L120.6 193.2 L117.5 192.7 L112.7 193.2 L110.0 191.1 L106.8 188.4 L103.1 185.8 L102.6 181.5 L101.0 178.9 L98.4 177.8 L94.1 178.9 L87.7 179.4 L81.4 178.9 L79.8 176.8 L77.7 180.5 L75.0 177.3 L71.7 180.5 L66.9 183.1 L66.4 186.3 L61.6 186.3 L59.0 181.5 L55.8 180.0 L53.7 176.2 L48.4 175.7 L44.6 177.3 L43.0 174.6 L39.9 175.2 L39.3 170.9 L36.1 168.8 L37.7 164.6 L36.7 159.2 L33.0 157.7 L31.6 155.0 L36.7 153.8 L42.0 152.8 L44.6 151.2 L39.9 147.5 L40.4 144.3 L38.8 140.0 L33.5 135.8 L30.8 133.7 L33.0 130.5 L33.5 127.3 L37.7 123.0 L42.5 118.8 L46.2 118.3 L47.3 116.1 L53.7 114.6 L60.0 113.5 L60.6 110.8 L62.7 109.2 L65.9 113.0 L68.5 112.4 L68.5 108.2 L71.7 105.0 L75.0 100.6 L77.7 99.1 L76.1 94.8 L75.0 90.5 L71.7 88.4 L68.5 85.8 L64.8 81.5 L61.6 77.8 L61.6 73.6 L58.4 72.5 L59.0 69.9 L61.1 66.7 L64.8 65.1 L66.9 61.9 L71.7 60.8 L75.0 58.9 L78.7 60.3 L79.8 62.4 L81.9 63.0 L85.1 60.3 L89.9 57.7 L92.5 54.7 L95.7 53.3 L96.2 50.6 L97.8 47.5 L100.5 43.7 L102.1 40.0 L103.7 39.5 L105.8 42.2 L107.9 43.2 L111.6 41.1 L114.8 40.6 L117.5 39.5 L119.6 42.2 L121.7 41.6 L120.6 39.0 L117.5 34.7 L113.2 28.9 L110.6 25.7 L110.6 23.0 L112.7 21.5 L114.8 22.5 L116.9 25.7 L120.6 27.3 L123.3 26.8 L122.2 24.6 L120.6 19.3 L121.7 17.7Z" fill="none" stroke="#0a0a0a" stroke-width="0.9" stroke-linejoin="round"/>
<rect x="26.90" y="3.30" width="191.05" height="195.30" fill="none" stroke="#5a5a5a" stroke-width="1.00"/>
<path d="M29.1 199.0 v2 M72.9 199.0 v2 M126.0 199.0 v2 M169.8 199.0 v2 M213.7 199.0 v2 M26.5 8.4 h-2 M26.5 55.5 h-2 M26.5 101.5 h-2 M26.5 147.4 h-2 M26.5 193.6 h-2" stroke="#333" stroke-width="0.7" fill="none"/>
<text class="t" x="22.8" y="10.9" text-anchor="end" textLength="18.6" lengthAdjust="spacingAndGlyphs">41.1°N</text>
<text class="t" x="22.8" y="58.0" text-anchor="end" textLength="18.6" lengthAdjust="spacingAndGlyphs">40.6°N</text>
<text class="t" x="22.8" y="104.0" text-anchor="end" textLength="18.6" lengthAdjust="spacingAndGlyphs">40.2°N</text>
<text class="t" x="22.8" y="149.9" text-anchor="end" textLength="18.6" lengthAdjust="spacingAndGlyphs">39.9°N</text>
<text class="t" x="22.8" y="196.1" text-anchor="end" textLength="18.6" lengthAdjust="spacingAndGlyphs">39.5°N</text>
<text class="t" x="29.1" y="208.1" text-anchor="middle" textLength="20.4" lengthAdjust="spacingAndGlyphs">115.4°E</text>
<text class="t" x="72.9" y="208.1" text-anchor="middle" textLength="20.4" lengthAdjust="spacingAndGlyphs">115.9°E</text>
<text class="t" x="126.0" y="208.1" text-anchor="middle" textLength="20.4" lengthAdjust="spacingAndGlyphs">116.5°E</text>
<text class="t" x="169.8" y="208.1" text-anchor="middle" textLength="20.4" lengthAdjust="spacingAndGlyphs">117.0°E</text>
<text class="t" x="213.7" y="208.1" text-anchor="middle" textLength="20.4" lengthAdjust="spacingAndGlyphs">117.5°E</text>
<text class="pl" x="30.6" y="14.2">(c)</text>
<rect x="26.9" y="214.3" width="191.0" height="9.8" fill="url(#cb)" stroke="#444" stroke-width="0.5"/>
<text class="c" x="26.90" y="232" text-anchor="middle">3500</text>
<text class="c" x="46.00" y="232" text-anchor="middle">5000</text>
<text class="c" x="65.10" y="232" text-anchor="middle">6500</text>
<text class="c" x="84.20" y="232" text-anchor="middle">8000</text>
<text class="c" x="103.30" y="232" text-anchor="middle">9500</text>
<text class="c" x="122.40" y="232" text-anchor="middle">11000</text>
<text class="c" x="141.50" y="232" text-anchor="middle">12500</text>
<text class="c" x="160.60" y="232" text-anchor="middle">14000</text>
<text class="c" x="179.70" y="232" text-anchor="middle">15500</text>
<text class="c" x="198.80" y="232" text-anchor="middle">17000</text>
<text class="c" x="217.90" y="232" text-anchor="middle">18500</text>
<path d="M26.90 224.1 v1.6 M46.00 224.1 v1.6 M65.10 224.1 v1.6 M84.20 224.1 v1.6 M103.30 224.1 v1.6 M122.40 224.1 v1.6 M141.50 224.1 v1.6 M160.60 224.1 v1.6 M179.70 224.1 v1.6 M198.80 224.1 v1.6 M217.90 224.1 v1.6" stroke="#333" stroke-width="0.6" fill="none"/>
<text class="r" x="1.0" y="3.8">3</text>
</g>
<g transform="translate(0.0 237.8)">
<g clip-path="url(#mapclip)"><rect x="25" y="5" width="195" height="192" fill="url(#bd)"/>
<rect x="25" y="5" width="195" height="192" fill="url(#gd0)"/>
<rect x="25" y="5" width="195" height="192" fill="url(#gd1)"/>
<rect x="25" y="5" width="195" height="192" fill="url(#gd2)"/>
<rect x="25" y="5" width="195" height="192" fill="url(#gd3)"/>
<rect x="25" y="5" width="195" height="192" fill="url(#gd4)"/>
</g>
<path d="M121.6 41.8 L126.5 46.1 L124.8 52.1 L130.8 56.3 L128.7 59.2 L127.2 63.0 L123.3 67.0 L122.8 69.9 L126.8 72.8 L124.5 74.5 L119.6 74.1 L115.9 75.2 L113.7 72.5 L109.5 72.5 L107.4 74.5 L107.9 77.8 L106.9 82.6 L107.3 85.6 M77.7 99.1 L79.2 97.5 L79.8 93.2 L82.4 91.6 L85.1 93.7 L87.7 91.6 L90.9 91.6 L93.0 93.7 L94.6 89.5 L97.8 86.8 L102.6 86.3 L107.3 85.6 L110.0 85.3 L112.2 86.8 L113.7 90.4 L117.5 91.6 L120.6 92.7 L122.2 95.9 L124.4 99.1 L126.0 99.4 M126.0 99.4 L129.3 97.8 L132.0 98.5 L135.9 99.8 L138.0 100.6 L141.5 103.0 L143.6 100.6 L146.8 97.5 L148.8 93.0 M126.0 99.4 L124.4 105.2 L123.5 112.0 L124.6 120.2 M159.3 38.2 L156.8 40.6 L154.7 43.2 L151.0 43.7 L150.5 48.5 L145.7 50.6 L144.1 52.8 L143.6 55.0 L143.6 60.3 L143.0 65.1 L140.4 66.3 L144.1 68.8 L142.5 72.5 L142.5 75.7 L145.2 77.8 L145.2 82.6 L143.8 86.8 L145.7 90.0 L148.8 93.0 M148.8 93.0 L146.8 97.5 L150.0 98.5 L152.1 95.9 L155.8 94.3 L157.9 96.9 L160.0 102.2 L162.2 104.4 L165.3 103.6 L166.4 98.5 L169.6 94.8 L171.2 91.6 L175.0 90.6 L177.1 89.0 L180.3 88.4 L184.0 86.3 L188.3 86.3 M163.4 104.3 L165.3 110.3 L166.4 115.6 L168.0 120.4 L165.9 124.1 M68.5 112.4 L71.7 114.0 L75.0 115.4 L78.6 120.1 L83.0 120.9 L86.1 121.2 M86.1 121.2 L88.2 116.9 L95.6 115.5 L98.0 111.6 L99.9 112.2 L103.1 114.9 L104.4 117.8 L107.9 121.5 L112.0 123.4 L114.9 122.7 L116.2 125.0 L119.6 122.5 L123.3 120.6 L124.6 120.2 M124.6 120.2 L129.7 122.7 L132.4 125.7 L135.6 127.8 L140.4 128.4 L145.7 126.8 L148.4 127.3 M132.6 118.5 L132.8 122.0 L133.6 124.6 L134.8 127.6 M134.5 118.5 L134.4 122.0 L133.9 124.8 M132.8 120.8 L134.4 120.8 M135.8 127.9 L137.6 130.3 L137.2 135.8 L135.6 141.1 L136.1 145.9 L134.2 149.9 L129.2 148.7 M129.2 148.7 L129.2 155.0 L128.2 158.2 L128.4 161.7 L133.5 162.3 L136.1 161.2 L138.3 163.5 L139.9 166.1 L143.0 167.7 L144.6 170.9 L144.8 174.1 M129.2 148.7 L126.1 151.1 L121.0 150.2 L122.7 146.8 L120.4 145.2 M116.2 125.0 L113.0 128.4 L114.8 132.6 L115.6 134.0 M115.6 134.0 L119.8 135.1 L120.8 140.9 L120.2 145.2 L115.9 144.6 L110.7 143.5 L111.6 135.3 L115.6 134.0 M116.1 134.0 L116.1 144.6 M86.1 121.2 L88.0 125.4 L94.0 127.5 L96.9 129.8 L96.4 131.0 M96.4 131.0 L92.1 132.5 L92.1 136.4 L94.2 139.0 L95.3 142.5 L102.1 141.6 L103.8 140.4 L101.0 139.0 L99.9 136.2 L97.9 133.1 L96.4 131.0 M103.8 140.4 L106.8 142.2 L110.7 143.2 M44.6 151.2 L46.8 148.5 L49.9 144.3 L55.8 141.1 L61.6 139.0 L65.9 140.0 L68.0 141.6 L71.7 139.5 L75.0 139.0 L76.6 140.6 L75.4 143.5 L80.3 144.8 L81.4 147.3 L85.6 147.8 L87.5 146.0 L95.3 142.5 M87.5 146.0 L89.3 149.3 L89.8 153.8 L92.9 156.0 L94.6 152.7 L99.6 154.0 L100.5 150.5 L103.3 151.1 L103.9 154.6 L108.2 153.8 L110.5 153.0 L112.4 151.6 L115.9 155.4 L118.4 152.7 L121.0 150.2 M103.7 154.6 L103.1 161.4 L101.5 166.7 L100.5 173.0 L101.0 178.9" fill="none" stroke="#0a0a0a" stroke-width="0.8" stroke-linejoin="round" stroke-linecap="round"/>
<path d="M125.0 16.9 L129.2 15.6 L133.0 16.7 L135.1 14.0 L135.1 9.8 L137.2 8.2 L140.4 9.2 L142.5 11.9 L141.5 16.7 L142.5 20.9 L144.6 22.5 L145.2 25.7 L150.5 29.9 L152.1 33.1 L155.8 33.7 L159.5 38.4 L162.2 40.6 L163.7 44.8 L168.5 49.1 L175.0 49.6 L182.4 49.0 L188.8 51.7 L196.2 54.4 L200.5 52.2 L205.8 51.2 L212.2 52.2 L214.3 55.0 L212.7 56.6 L210.0 56.1 L207.9 57.1 L206.8 59.8 L208.4 62.4 L205.8 64.0 L201.5 64.6 L195.7 64.0 L192.0 66.1 L190.4 68.3 L190.9 70.4 L187.7 71.5 L187.7 74.1 L189.3 78.9 L189.3 83.7 L188.3 86.3 L190.9 89.0 L193.0 93.2 L195.2 96.9 L197.8 97.5 L198.9 101.2 L203.1 104.7 L204.7 108.7 L201.0 110.3 L200.5 113.5 L194.1 117.2 L187.7 119.9 L182.4 122.0 L175.0 122.6 L171.7 126.8 L168.5 126.2 L165.9 124.1 L156.8 125.2 L151.5 126.2 L148.4 127.3 L149.4 131.0 L148.9 134.7 L150.5 139.0 L151.0 142.2 L154.2 143.7 L160.0 148.0 L162.2 146.9 L163.7 150.6 L165.0 155.0 L161.6 158.2 L159.5 161.9 L160.6 164.0 L159.5 166.7 L155.8 169.9 L154.7 172.5 L151.5 173.6 L149.9 176.2 L147.8 174.1 L144.1 174.1 L145.2 175.7 L144.1 177.3 L142.0 175.7 L137.7 174.6 L132.4 174.1 L130.8 175.7 L127.7 178.9 L125.0 182.1 L121.7 184.2 L119.6 185.8 L116.9 185.3 L118.0 186.8 L118.5 189.0 L120.1 189.5 L121.7 191.1 L120.6 193.2 L117.5 192.7 L112.7 193.2 L110.0 191.1 L106.8 188.4 L103.1 185.8 L102.6 181.5 L101.0 178.9 L98.4 177.8 L94.1 178.9 L87.7 179.4 L81.4 178.9 L79.8 176.8 L77.7 180.5 L75.0 177.3 L71.7 180.5 L66.9 183.1 L66.4 186.3 L61.6 186.3 L59.0 181.5 L55.8 180.0 L53.7 176.2 L48.4 175.7 L44.6 177.3 L43.0 174.6 L39.9 175.2 L39.3 170.9 L36.1 168.8 L37.7 164.6 L36.7 159.2 L33.0 157.7 L31.6 155.0 L36.7 153.8 L42.0 152.8 L44.6 151.2 L39.9 147.5 L40.4 144.3 L38.8 140.0 L33.5 135.8 L30.8 133.7 L33.0 130.5 L33.5 127.3 L37.7 123.0 L42.5 118.8 L46.2 118.3 L47.3 116.1 L53.7 114.6 L60.0 113.5 L60.6 110.8 L62.7 109.2 L65.9 113.0 L68.5 112.4 L68.5 108.2 L71.7 105.0 L75.0 100.6 L77.7 99.1 L76.1 94.8 L75.0 90.5 L71.7 88.4 L68.5 85.8 L64.8 81.5 L61.6 77.8 L61.6 73.6 L58.4 72.5 L59.0 69.9 L61.1 66.7 L64.8 65.1 L66.9 61.9 L71.7 60.8 L75.0 58.9 L78.7 60.3 L79.8 62.4 L81.9 63.0 L85.1 60.3 L89.9 57.7 L92.5 54.7 L95.7 53.3 L96.2 50.6 L97.8 47.5 L100.5 43.7 L102.1 40.0 L103.7 39.5 L105.8 42.2 L107.9 43.2 L111.6 41.1 L114.8 40.6 L117.5 39.5 L119.6 42.2 L121.7 41.6 L120.6 39.0 L117.5 34.7 L113.2 28.9 L110.6 25.7 L110.6 23.0 L112.7 21.5 L114.8 22.5 L116.9 25.7 L120.6 27.3 L123.3 26.8 L122.2 24.6 L120.6 19.3 L121.7 17.7Z" fill="none" stroke="#0a0a0a" stroke-width="0.9" stroke-linejoin="round"/>
<rect x="26.90" y="3.30" width="191.05" height="195.30" fill="none" stroke="#999" stroke-width="1.30"/>
<path d="M29.9 199.0 v2 M73.6 199.0 v2 M126.2 199.0 v2 M169.8 199.0 v2 M213.7 199.0 v2 M26.5 9.3 h-2 M26.5 55.4 h-2 M26.5 101.4 h-2 M26.5 147.4 h-2 M26.5 193.4 h-2" stroke="#333" stroke-width="0.7" fill="none"/>
<text class="t" x="22.8" y="11.8" text-anchor="end" textLength="18.6" lengthAdjust="spacingAndGlyphs">41.0°N</text>
<text class="t" x="22.8" y="57.9" text-anchor="end" textLength="18.6" lengthAdjust="spacingAndGlyphs">40.6°N</text>
<text class="t" x="22.8" y="103.9" text-anchor="end" textLength="18.6" lengthAdjust="spacingAndGlyphs">40.2°N</text>
<text class="t" x="22.8" y="149.9" text-anchor="end" textLength="18.6" lengthAdjust="spacingAndGlyphs">39.9°N</text>
<text class="t" x="22.8" y="195.9" text-anchor="end" textLength="18.6" lengthAdjust="spacingAndGlyphs">39.5°N</text>
<text class="t" x="29.9" y="208.1" text-anchor="middle" textLength="20.4" lengthAdjust="spacingAndGlyphs">115.4°E</text>
<text class="t" x="73.6" y="208.1" text-anchor="middle" textLength="20.4" lengthAdjust="spacingAndGlyphs">115.9°E</text>
<text class="t" x="126.2" y="208.1" text-anchor="middle" textLength="20.4" lengthAdjust="spacingAndGlyphs">116.5°E</text>
<text class="t" x="169.8" y="208.1" text-anchor="middle" textLength="20.4" lengthAdjust="spacingAndGlyphs">117.0°E</text>
<text class="t" x="213.7" y="208.1" text-anchor="middle" textLength="20.4" lengthAdjust="spacingAndGlyphs">117.5°E</text>
<text class="pl" x="30.6" y="14.2">(d)</text>
<rect x="26.9" y="214.3" width="191.0" height="9.8" fill="url(#cb)" stroke="#444" stroke-width="0.5"/>
<text class="c" x="26.90" y="232" text-anchor="middle">3500</text>
<text class="c" x="46.00" y="232" text-anchor="middle">5000</text>
<text class="c" x="65.10" y="232" text-anchor="middle">6500</text>
<text class="c" x="84.20" y="232" text-anchor="middle">8000</text>
<text class="c" x="103.30" y="232" text-anchor="middle">9500</text>
<text class="c" x="122.40" y="232" text-anchor="middle">11000</text>
<text class="c" x="141.50" y="232" text-anchor="middle">12500</text>
<text class="c" x="160.60" y="232" text-anchor="middle">14000</text>
<text class="c" x="179.70" y="232" text-anchor="middle">15500</text>
<text class="c" x="198.80" y="232" text-anchor="middle">17000</text>
<text class="c" x="217.90" y="232" text-anchor="middle">18500</text>
<path d="M26.90 224.1 v1.6 M46.00 224.1 v1.6 M65.10 224.1 v1.6 M84.20 224.1 v1.6 M103.30 224.1 v1.6 M122.40 224.1 v1.6 M141.50 224.1 v1.6 M160.60 224.1 v1.6 M179.70 224.1 v1.6 M198.80 224.1 v1.6 M217.90 224.1 v1.6" stroke="#333" stroke-width="0.6" fill="none"/>
<text class="r" x="1.0" y="3.8">4</text>
</g>
<g transform="translate(229.7 237.8)">
<g clip-path="url(#mapclip)"><rect x="25" y="5" width="195" height="192" fill="url(#be)"/>
<rect x="25" y="5" width="195" height="192" fill="url(#ge0)"/>
<rect x="25" y="5" width="195" height="192" fill="url(#ge1)"/>
<rect x="25" y="5" width="195" height="192" fill="url(#ge2)"/>
<rect x="25" y="5" width="195" height="192" fill="url(#ge3)"/>
<rect x="25" y="5" width="195" height="192" fill="url(#ge4)"/>
<rect x="25" y="5" width="195" height="192" fill="url(#ge5)"/>
<rect x="25" y="5" width="195" height="192" fill="url(#ge6)"/>
<rect x="25" y="5" width="195" height="192" fill="url(#ge7)"/>
<rect x="25" y="5" width="195" height="192" fill="url(#ge8)"/>
</g>
<path d="M121.6 41.8 L126.5 46.1 L124.8 52.1 L130.8 56.3 L128.7 59.2 L127.2 63.0 L123.3 67.0 L122.8 69.9 L126.8 72.8 L124.5 74.5 L119.6 74.1 L115.9 75.2 L113.7 72.5 L109.5 72.5 L107.4 74.5 L107.9 77.8 L106.9 82.6 L107.3 85.6 M77.7 99.1 L79.2 97.5 L79.8 93.2 L82.4 91.6 L85.1 93.7 L87.7 91.6 L90.9 91.6 L93.0 93.7 L94.6 89.5 L97.8 86.8 L102.6 86.3 L107.3 85.6 L110.0 85.3 L112.2 86.8 L113.7 90.4 L117.5 91.6 L120.6 92.7 L122.2 95.9 L124.4 99.1 L126.0 99.4 M126.0 99.4 L129.3 97.8 L132.0 98.5 L135.9 99.8 L138.0 100.6 L141.5 103.0 L143.6 100.6 L146.8 97.5 L148.8 93.0 M126.0 99.4 L124.4 105.2 L123.5 112.0 L124.6 120.2 M159.3 38.2 L156.8 40.6 L154.7 43.2 L151.0 43.7 L150.5 48.5 L145.7 50.6 L144.1 52.8 L143.6 55.0 L143.6 60.3 L143.0 65.1 L140.4 66.3 L144.1 68.8 L142.5 72.5 L142.5 75.7 L145.2 77.8 L145.2 82.6 L143.8 86.8 L145.7 90.0 L148.8 93.0 M148.8 93.0 L146.8 97.5 L150.0 98.5 L152.1 95.9 L155.8 94.3 L157.9 96.9 L160.0 102.2 L162.2 104.4 L165.3 103.6 L166.4 98.5 L169.6 94.8 L171.2 91.6 L175.0 90.6 L177.1 89.0 L180.3 88.4 L184.0 86.3 L188.3 86.3 M163.4 104.3 L165.3 110.3 L166.4 115.6 L168.0 120.4 L165.9 124.1 M68.5 112.4 L71.7 114.0 L75.0 115.4 L78.6 120.1 L83.0 120.9 L86.1 121.2 M86.1 121.2 L88.2 116.9 L95.6 115.5 L98.0 111.6 L99.9 112.2 L103.1 114.9 L104.4 117.8 L107.9 121.5 L112.0 123.4 L114.9 122.7 L116.2 125.0 L119.6 122.5 L123.3 120.6 L124.6 120.2 M124.6 120.2 L129.7 122.7 L132.4 125.7 L135.6 127.8 L140.4 128.4 L145.7 126.8 L148.4 127.3 M132.6 118.5 L132.8 122.0 L133.6 124.6 L134.8 127.6 M134.5 118.5 L134.4 122.0 L133.9 124.8 M132.8 120.8 L134.4 120.8 M135.8 127.9 L137.6 130.3 L137.2 135.8 L135.6 141.1 L136.1 145.9 L134.2 149.9 L129.2 148.7 M129.2 148.7 L129.2 155.0 L128.2 158.2 L128.4 161.7 L133.5 162.3 L136.1 161.2 L138.3 163.5 L139.9 166.1 L143.0 167.7 L144.6 170.9 L144.8 174.1 M129.2 148.7 L126.1 151.1 L121.0 150.2 L122.7 146.8 L120.4 145.2 M116.2 125.0 L113.0 128.4 L114.8 132.6 L115.6 134.0 M115.6 134.0 L119.8 135.1 L120.8 140.9 L120.2 145.2 L115.9 144.6 L110.7 143.5 L111.6 135.3 L115.6 134.0 M116.1 134.0 L116.1 144.6 M86.1 121.2 L88.0 125.4 L94.0 127.5 L96.9 129.8 L96.4 131.0 M96.4 131.0 L92.1 132.5 L92.1 136.4 L94.2 139.0 L95.3 142.5 L102.1 141.6 L103.8 140.4 L101.0 139.0 L99.9 136.2 L97.9 133.1 L96.4 131.0 M103.8 140.4 L106.8 142.2 L110.7 143.2 M44.6 151.2 L46.8 148.5 L49.9 144.3 L55.8 141.1 L61.6 139.0 L65.9 140.0 L68.0 141.6 L71.7 139.5 L75.0 139.0 L76.6 140.6 L75.4 143.5 L80.3 144.8 L81.4 147.3 L85.6 147.8 L87.5 146.0 L95.3 142.5 M87.5 146.0 L89.3 149.3 L89.8 153.8 L92.9 156.0 L94.6 152.7 L99.6 154.0 L100.5 150.5 L103.3 151.1 L103.9 154.6 L108.2 153.8 L110.5 153.0 L112.4 151.6 L115.9 155.4 L118.4 152.7 L121.0 150.2 M103.7 154.6 L103.1 161.4 L101.5 166.7 L100.5 173.0 L101.0 178.9" fill="none" stroke="#0a0a0a" stroke-width="0.8" stroke-linejoin="round" stroke-linecap="round"/>
<path d="M125.0 16.9 L129.2 15.6 L133.0 16.7 L135.1 14.0 L135.1 9.8 L137.2 8.2 L140.4 9.2 L142.5 11.9 L141.5 16.7 L142.5 20.9 L144.6 22.5 L145.2 25.7 L150.5 29.9 L152.1 33.1 L155.8 33.7 L159.5 38.4 L162.2 40.6 L163.7 44.8 L168.5 49.1 L175.0 49.6 L182.4 49.0 L188.8 51.7 L196.2 54.4 L200.5 52.2 L205.8 51.2 L212.2 52.2 L214.3 55.0 L212.7 56.6 L210.0 56.1 L207.9 57.1 L206.8 59.8 L208.4 62.4 L205.8 64.0 L201.5 64.6 L195.7 64.0 L192.0 66.1 L190.4 68.3 L190.9 70.4 L187.7 71.5 L187.7 74.1 L189.3 78.9 L189.3 83.7 L188.3 86.3 L190.9 89.0 L193.0 93.2 L195.2 96.9 L197.8 97.5 L198.9 101.2 L203.1 104.7 L204.7 108.7 L201.0 110.3 L200.5 113.5 L194.1 117.2 L187.7 119.9 L182.4 122.0 L175.0 122.6 L171.7 126.8 L168.5 126.2 L165.9 124.1 L156.8 125.2 L151.5 126.2 L148.4 127.3 L149.4 131.0 L148.9 134.7 L150.5 139.0 L151.0 142.2 L154.2 143.7 L160.0 148.0 L162.2 146.9 L163.7 150.6 L165.0 155.0 L161.6 158.2 L159.5 161.9 L160.6 164.0 L159.5 166.7 L155.8 169.9 L154.7 172.5 L151.5 173.6 L149.9 176.2 L147.8 174.1 L144.1 174.1 L145.2 175.7 L144.1 177.3 L142.0 175.7 L137.7 174.6 L132.4 174.1 L130.8 175.7 L127.7 178.9 L125.0 182.1 L121.7 184.2 L119.6 185.8 L116.9 185.3 L118.0 186.8 L118.5 189.0 L120.1 189.5 L121.7 191.1 L120.6 193.2 L117.5 192.7 L112.7 193.2 L110.0 191.1 L106.8 188.4 L103.1 185.8 L102.6 181.5 L101.0 178.9 L98.4 177.8 L94.1 178.9 L87.7 179.4 L81.4 178.9 L79.8 176.8 L77.7 180.5 L75.0 177.3 L71.7 180.5 L66.9 183.1 L66.4 186.3 L61.6 186.3 L59.0 181.5 L55.8 180.0 L53.7 176.2 L48.4 175.7 L44.6 177.3 L43.0 174.6 L39.9 175.2 L39.3 170.9 L36.1 168.8 L37.7 164.6 L36.7 159.2 L33.0 157.7 L31.6 155.0 L36.7 153.8 L42.0 152.8 L44.6 151.2 L39.9 147.5 L40.4 144.3 L38.8 140.0 L33.5 135.8 L30.8 133.7 L33.0 130.5 L33.5 127.3 L37.7 123.0 L42.5 118.8 L46.2 118.3 L47.3 116.1 L53.7 114.6 L60.0 113.5 L60.6 110.8 L62.7 109.2 L65.9 113.0 L68.5 112.4 L68.5 108.2 L71.7 105.0 L75.0 100.6 L77.7 99.1 L76.1 94.8 L75.0 90.5 L71.7 88.4 L68.5 85.8 L64.8 81.5 L61.6 77.8 L61.6 73.6 L58.4 72.5 L59.0 69.9 L61.1 66.7 L64.8 65.1 L66.9 61.9 L71.7 60.8 L75.0 58.9 L78.7 60.3 L79.8 62.4 L81.9 63.0 L85.1 60.3 L89.9 57.7 L92.5 54.7 L95.7 53.3 L96.2 50.6 L97.8 47.5 L100.5 43.7 L102.1 40.0 L103.7 39.5 L105.8 42.2 L107.9 43.2 L111.6 41.1 L114.8 40.6 L117.5 39.5 L119.6 42.2 L121.7 41.6 L120.6 39.0 L117.5 34.7 L113.2 28.9 L110.6 25.7 L110.6 23.0 L112.7 21.5 L114.8 22.5 L116.9 25.7 L120.6 27.3 L123.3 26.8 L122.2 24.6 L120.6 19.3 L121.7 17.7Z" fill="none" stroke="#0a0a0a" stroke-width="0.9" stroke-linejoin="round"/>
<rect x="26.90" y="3.30" width="191.05" height="195.30" fill="none" stroke="#777" stroke-width="1.10"/>
<path d="M29.1 199.0 v2 M72.9 199.0 v2 M126.0 199.0 v2 M169.8 199.0 v2 M213.7 199.0 v2 M26.5 8.4 h-2 M26.5 55.5 h-2 M26.5 101.5 h-2 M26.5 147.4 h-2 M26.5 193.6 h-2" stroke="#333" stroke-width="0.7" fill="none"/>
<text class="t" x="22.8" y="10.9" text-anchor="end" textLength="18.6" lengthAdjust="spacingAndGlyphs">41.1°N</text>
<text class="t" x="22.8" y="58.0" text-anchor="end" textLength="18.6" lengthAdjust="spacingAndGlyphs">40.6°N</text>
<text class="t" x="22.8" y="104.0" text-anchor="end" textLength="18.6" lengthAdjust="spacingAndGlyphs">40.2°N</text>
<text class="t" x="22.8" y="149.9" text-anchor="end" textLength="18.6" lengthAdjust="spacingAndGlyphs">39.9°N</text>
<text class="t" x="22.8" y="196.1" text-anchor="end" textLength="18.6" lengthAdjust="spacingAndGlyphs">39.5°N</text>
<text class="t" x="29.1" y="208.1" text-anchor="middle" textLength="20.4" lengthAdjust="spacingAndGlyphs">115.4°E</text>
<text class="t" x="72.9" y="208.1" text-anchor="middle" textLength="20.4" lengthAdjust="spacingAndGlyphs">115.9°E</text>
<text class="t" x="126.0" y="208.1" text-anchor="middle" textLength="20.4" lengthAdjust="spacingAndGlyphs">116.5°E</text>
<text class="t" x="169.8" y="208.1" text-anchor="middle" textLength="20.4" lengthAdjust="spacingAndGlyphs">117.0°E</text>
<text class="t" x="213.7" y="208.1" text-anchor="middle" textLength="20.4" lengthAdjust="spacingAndGlyphs">117.5°E</text>
<text class="pl" x="30.6" y="14.2">(e)</text>
<rect x="26.9" y="214.3" width="191.0" height="9.8" fill="url(#cb)" stroke="#444" stroke-width="0.5"/>
<text class="c" x="26.90" y="232" text-anchor="middle">3500</text>
<text class="c" x="46.00" y="232" text-anchor="middle">5000</text>
<text class="c" x="65.10" y="232" text-anchor="middle">6500</text>
<text class="c" x="84.20" y="232" text-anchor="middle">8000</text>
<text class="c" x="103.30" y="232" text-anchor="middle">9500</text>
<text class="c" x="122.40" y="232" text-anchor="middle">11000</text>
<text class="c" x="141.50" y="232" text-anchor="middle">12500</text>
<text class="c" x="160.60" y="232" text-anchor="middle">14000</text>
<text class="c" x="179.70" y="232" text-anchor="middle">15500</text>
<text class="c" x="198.80" y="232" text-anchor="middle">17000</text>
<text class="c" x="217.90" y="232" text-anchor="middle">18500</text>
<path d="M26.90 224.1 v1.6 M46.00 224.1 v1.6 M65.10 224.1 v1.6 M84.20 224.1 v1.6 M103.30 224.1 v1.6 M122.40 224.1 v1.6 M141.50 224.1 v1.6 M160.60 224.1 v1.6 M179.70 224.1 v1.6 M198.80 224.1 v1.6 M217.90 224.1 v1.6" stroke="#333" stroke-width="0.6" fill="none"/>
<text class="r" x="1.0" y="3.8">5</text>
</g>
<g transform="translate(459.4 237.8)">
<g clip-path="url(#mapclip)"><rect x="25" y="5" width="195" height="192" fill="url(#bf)"/>
<rect x="25" y="5" width="195" height="192" fill="url(#gf0)"/>
<rect x="25" y="5" width="195" height="192" fill="url(#gf1)"/>
<rect x="25" y="5" width="195" height="192" fill="url(#gf2)"/>
<rect x="25" y="5" width="195" height="192" fill="url(#gf3)"/>
<rect x="25" y="5" width="195" height="192" fill="url(#gf4)"/>
<rect x="25" y="5" width="195" height="192" fill="url(#gf5)"/>
<rect x="25" y="5" width="195" height="192" fill="url(#gf6)"/>
<rect x="25" y="5" width="195" height="192" fill="url(#gf7)"/>
<rect x="25" y="5" width="195" height="192" fill="url(#gf8)"/>
<rect x="25" y="5" width="195" height="192" fill="url(#gf9)"/>
<rect x="25" y="5" width="195" height="192" fill="url(#gf10)"/>
<rect x="25" y="5" width="195" height="192" fill="url(#gf11)"/>
<rect x="25" y="5" width="195" height="192" fill="url(#gf12)"/>
<rect x="25" y="5" width="195" height="192" fill="url(#gf13)"/>
<rect x="25" y="5" width="195" height="192" fill="url(#gf14)"/>
<rect x="25" y="5" width="195" height="192" fill="url(#gf15)"/>
<rect x="25" y="5" width="195" height="192" fill="url(#gf16)"/>
<rect x="25" y="5" width="195" height="192" fill="url(#gf17)"/>
<rect x="25" y="5" width="195" height="192" fill="url(#gf18)"/>
<rect x="25" y="5" width="195" height="192" fill="url(#gf19)"/>
<rect x="25" y="5" width="195" height="192" fill="url(#gf20)"/>
<rect x="25" y="5" width="195" height="192" fill="url(#gf21)"/>
<rect x="25" y="5" width="195" height="192" fill="url(#gf22)"/>
</g>
<path d="M121.6 41.8 L126.5 46.1 L124.8 52.1 L130.8 56.3 L128.7 59.2 L127.2 63.0 L123.3 67.0 L122.8 69.9 L126.8 72.8 L124.5 74.5 L119.6 74.1 L115.9 75.2 L113.7 72.5 L109.5 72.5 L107.4 74.5 L107.9 77.8 L106.9 82.6 L107.3 85.6 M77.7 99.1 L79.2 97.5 L79.8 93.2 L82.4 91.6 L85.1 93.7 L87.7 91.6 L90.9 91.6 L93.0 93.7 L94.6 89.5 L97.8 86.8 L102.6 86.3 L107.3 85.6 L110.0 85.3 L112.2 86.8 L113.7 90.4 L117.5 91.6 L120.6 92.7 L122.2 95.9 L124.4 99.1 L126.0 99.4 M126.0 99.4 L129.3 97.8 L132.0 98.5 L135.9 99.8 L138.0 100.6 L141.5 103.0 L143.6 100.6 L146.8 97.5 L148.8 93.0 M126.0 99.4 L124.4 105.2 L123.5 112.0 L124.6 120.2 M159.3 38.2 L156.8 40.6 L154.7 43.2 L151.0 43.7 L150.5 48.5 L145.7 50.6 L144.1 52.8 L143.6 55.0 L143.6 60.3 L143.0 65.1 L140.4 66.3 L144.1 68.8 L142.5 72.5 L142.5 75.7 L145.2 77.8 L145.2 82.6 L143.8 86.8 L145.7 90.0 L148.8 93.0 M148.8 93.0 L146.8 97.5 L150.0 98.5 L152.1 95.9 L155.8 94.3 L157.9 96.9 L160.0 102.2 L162.2 104.4 L165.3 103.6 L166.4 98.5 L169.6 94.8 L171.2 91.6 L175.0 90.6 L177.1 89.0 L180.3 88.4 L184.0 86.3 L188.3 86.3 M163.4 104.3 L165.3 110.3 L166.4 115.6 L168.0 120.4 L165.9 124.1 M68.5 112.4 L71.7 114.0 L75.0 115.4 L78.6 120.1 L83.0 120.9 L86.1 121.2 M86.1 121.2 L88.2 116.9 L95.6 115.5 L98.0 111.6 L99.9 112.2 L103.1 114.9 L104.4 117.8 L107.9 121.5 L112.0 123.4 L114.9 122.7 L116.2 125.0 L119.6 122.5 L123.3 120.6 L124.6 120.2 M124.6 120.2 L129.7 122.7 L132.4 125.7 L135.6 127.8 L140.4 128.4 L145.7 126.8 L148.4 127.3 M132.6 118.5 L132.8 122.0 L133.6 124.6 L134.8 127.6 M134.5 118.5 L134.4 122.0 L133.9 124.8 M132.8 120.8 L134.4 120.8 M135.8 127.9 L137.6 130.3 L137.2 135.8 L135.6 141.1 L136.1 145.9 L134.2 149.9 L129.2 148.7 M129.2 148.7 L129.2 155.0 L128.2 158.2 L128.4 161.7 L133.5 162.3 L136.1 161.2 L138.3 163.5 L139.9 166.1 L143.0 167.7 L144.6 170.9 L144.8 174.1 M129.2 148.7 L126.1 151.1 L121.0 150.2 L122.7 146.8 L120.4 145.2 M116.2 125.0 L113.0 128.4 L114.8 132.6 L115.6 134.0 M115.6 134.0 L119.8 135.1 L120.8 140.9 L120.2 145.2 L115.9 144.6 L110.7 143.5 L111.6 135.3 L115.6 134.0 M116.1 134.0 L116.1 144.6 M86.1 121.2 L88.0 125.4 L94.0 127.5 L96.9 129.8 L96.4 131.0 M96.4 131.0 L92.1 132.5 L92.1 136.4 L94.2 139.0 L95.3 142.5 L102.1 141.6 L103.8 140.4 L101.0 139.0 L99.9 136.2 L97.9 133.1 L96.4 131.0 M103.8 140.4 L106.8 142.2 L110.7 143.2 M44.6 151.2 L46.8 148.5 L49.9 144.3 L55.8 141.1 L61.6 139.0 L65.9 140.0 L68.0 141.6 L71.7 139.5 L75.0 139.0 L76.6 140.6 L75.4 143.5 L80.3 144.8 L81.4 147.3 L85.6 147.8 L87.5 146.0 L95.3 142.5 M87.5 146.0 L89.3 149.3 L89.8 153.8 L92.9 156.0 L94.6 152.7 L99.6 154.0 L100.5 150.5 L103.3 151.1 L103.9 154.6 L108.2 153.8 L110.5 153.0 L112.4 151.6 L115.9 155.4 L118.4 152.7 L121.0 150.2 M103.7 154.6 L103.1 161.4 L101.5 166.7 L100.5 173.0 L101.0 178.9" fill="none" stroke="#0a0a0a" stroke-width="0.8" stroke-linejoin="round" stroke-linecap="round"/>
<path d="M125.0 16.9 L129.2 15.6 L133.0 16.7 L135.1 14.0 L135.1 9.8 L137.2 8.2 L140.4 9.2 L142.5 11.9 L141.5 16.7 L142.5 20.9 L144.6 22.5 L145.2 25.7 L150.5 29.9 L152.1 33.1 L155.8 33.7 L159.5 38.4 L162.2 40.6 L163.7 44.8 L168.5 49.1 L175.0 49.6 L182.4 49.0 L188.8 51.7 L196.2 54.4 L200.5 52.2 L205.8 51.2 L212.2 52.2 L214.3 55.0 L212.7 56.6 L210.0 56.1 L207.9 57.1 L206.8 59.8 L208.4 62.4 L205.8 64.0 L201.5 64.6 L195.7 64.0 L192.0 66.1 L190.4 68.3 L190.9 70.4 L187.7 71.5 L187.7 74.1 L189.3 78.9 L189.3 83.7 L188.3 86.3 L190.9 89.0 L193.0 93.2 L195.2 96.9 L197.8 97.5 L198.9 101.2 L203.1 104.7 L204.7 108.7 L201.0 110.3 L200.5 113.5 L194.1 117.2 L187.7 119.9 L182.4 122.0 L175.0 122.6 L171.7 126.8 L168.5 126.2 L165.9 124.1 L156.8 125.2 L151.5 126.2 L148.4 127.3 L149.4 131.0 L148.9 134.7 L150.5 139.0 L151.0 142.2 L154.2 143.7 L160.0 148.0 L162.2 146.9 L163.7 150.6 L165.0 155.0 L161.6 158.2 L159.5 161.9 L160.6 164.0 L159.5 166.7 L155.8 169.9 L154.7 172.5 L151.5 173.6 L149.9 176.2 L147.8 174.1 L144.1 174.1 L145.2 175.7 L144.1 177.3 L142.0 175.7 L137.7 174.6 L132.4 174.1 L130.8 175.7 L127.7 178.9 L125.0 182.1 L121.7 184.2 L119.6 185.8 L116.9 185.3 L118.0 186.8 L118.5 189.0 L120.1 189.5 L121.7 191.1 L120.6 193.2 L117.5 192.7 L112.7 193.2 L110.0 191.1 L106.8 188.4 L103.1 185.8 L102.6 181.5 L101.0 178.9 L98.4 177.8 L94.1 178.9 L87.7 179.4 L81.4 178.9 L79.8 176.8 L77.7 180.5 L75.0 177.3 L71.7 180.5 L66.9 183.1 L66.4 186.3 L61.6 186.3 L59.0 181.5 L55.8 180.0 L53.7 176.2 L48.4 175.7 L44.6 177.3 L43.0 174.6 L39.9 175.2 L39.3 170.9 L36.1 168.8 L37.7 164.6 L36.7 159.2 L33.0 157.7 L31.6 155.0 L36.7 153.8 L42.0 152.8 L44.6 151.2 L39.9 147.5 L40.4 144.3 L38.8 140.0 L33.5 135.8 L30.8 133.7 L33.0 130.5 L33.5 127.3 L37.7 123.0 L42.5 118.8 L46.2 118.3 L47.3 116.1 L53.7 114.6 L60.0 113.5 L60.6 110.8 L62.7 109.2 L65.9 113.0 L68.5 112.4 L68.5 108.2 L71.7 105.0 L75.0 100.6 L77.7 99.1 L76.1 94.8 L75.0 90.5 L71.7 88.4 L68.5 85.8 L64.8 81.5 L61.6 77.8 L61.6 73.6 L58.4 72.5 L59.0 69.9 L61.1 66.7 L64.8 65.1 L66.9 61.9 L71.7 60.8 L75.0 58.9 L78.7 60.3 L79.8 62.4 L81.9 63.0 L85.1 60.3 L89.9 57.7 L92.5 54.7 L95.7 53.3 L96.2 50.6 L97.8 47.5 L100.5 43.7 L102.1 40.0 L103.7 39.5 L105.8 42.2 L107.9 43.2 L111.6 41.1 L114.8 40.6 L117.5 39.5 L119.6 42.2 L121.7 41.6 L120.6 39.0 L117.5 34.7 L113.2 28.9 L110.6 25.7 L110.6 23.0 L112.7 21.5 L114.8 22.5 L116.9 25.7 L120.6 27.3 L123.3 26.8 L122.2 24.6 L120.6 19.3 L121.7 17.7Z" fill="none" stroke="#0a0a0a" stroke-width="0.9" stroke-linejoin="round"/>
<rect x="26.90" y="3.30" width="191.05" height="195.30" fill="none" stroke="#777" stroke-width="1.10"/>
<path d="M29.1 199.0 v2 M72.9 199.0 v2 M126.0 199.0 v2 M169.8 199.0 v2 M213.7 199.0 v2 M26.5 8.4 h-2 M26.5 55.5 h-2 M26.5 101.5 h-2 M26.5 147.4 h-2 M26.5 193.6 h-2" stroke="#333" stroke-width="0.7" fill="none"/>
<text class="t" x="22.8" y="10.9" text-anchor="end" textLength="18.6" lengthAdjust="spacingAndGlyphs">41.1°N</text>
<text class="t" x="22.8" y="58.0" text-anchor="end" textLength="18.6" lengthAdjust="spacingAndGlyphs">40.6°N</text>
<text class="t" x="22.8" y="104.0" text-anchor="end" textLength="18.6" lengthAdjust="spacingAndGlyphs">40.2°N</text>
<text class="t" x="22.8" y="149.9" text-anchor="end" textLength="18.6" lengthAdjust="spacingAndGlyphs">39.9°N</text>
<text class="t" x="22.8" y="196.1" text-anchor="end" textLength="18.6" lengthAdjust="spacingAndGlyphs">39.5°N</text>
<text class="t" x="29.1" y="208.1" text-anchor="middle" textLength="20.4" lengthAdjust="spacingAndGlyphs">115.4°E</text>
<text class="t" x="72.9" y="208.1" text-anchor="middle" textLength="20.4" lengthAdjust="spacingAndGlyphs">115.9°E</text>
<text class="t" x="126.0" y="208.1" text-anchor="middle" textLength="20.4" lengthAdjust="spacingAndGlyphs">116.5°E</text>
<text class="t" x="169.8" y="208.1" text-anchor="middle" textLength="20.4" lengthAdjust="spacingAndGlyphs">117.0°E</text>
<text class="t" x="213.7" y="208.1" text-anchor="middle" textLength="20.4" lengthAdjust="spacingAndGlyphs">117.5°E</text>
<text class="pl" x="30.6" y="14.2">(f)</text>
<rect x="26.9" y="214.3" width="191.0" height="9.8" fill="url(#cb)" stroke="#444" stroke-width="0.5"/>
<text class="c" x="26.90" y="232" text-anchor="middle">3500</text>
<text class="c" x="46.00" y="232" text-anchor="middle">5000</text>
<text class="c" x="65.10" y="232" text-anchor="middle">6500</text>
<text class="c" x="84.20" y="232" text-anchor="middle">8000</text>
<text class="c" x="103.30" y="232" text-anchor="middle">9500</text>
<text class="c" x="122.40" y="232" text-anchor="middle">11000</text>
<text class="c" x="141.50" y="232" text-anchor="middle">12500</text>
<text class="c" x="160.60" y="232" text-anchor="middle">14000</text>
<text class="c" x="179.70" y="232" text-anchor="middle">15500</text>
<text class="c" x="198.80" y="232" text-anchor="middle">17000</text>
<text class="c" x="217.90" y="232" text-anchor="middle">18500</text>
<path d="M26.90 224.1 v1.6 M46.00 224.1 v1.6 M65.10 224.1 v1.6 M84.20 224.1 v1.6 M103.30 224.1 v1.6 M122.40 224.1 v1.6 M141.50 224.1 v1.6 M160.60 224.1 v1.6 M179.70 224.1 v1.6 M198.80 224.1 v1.6 M217.90 224.1 v1.6" stroke="#333" stroke-width="0.6" fill="none"/>
<text class="r" x="1.0" y="3.8">6</text>
</g>
</svg>
</body></html>
